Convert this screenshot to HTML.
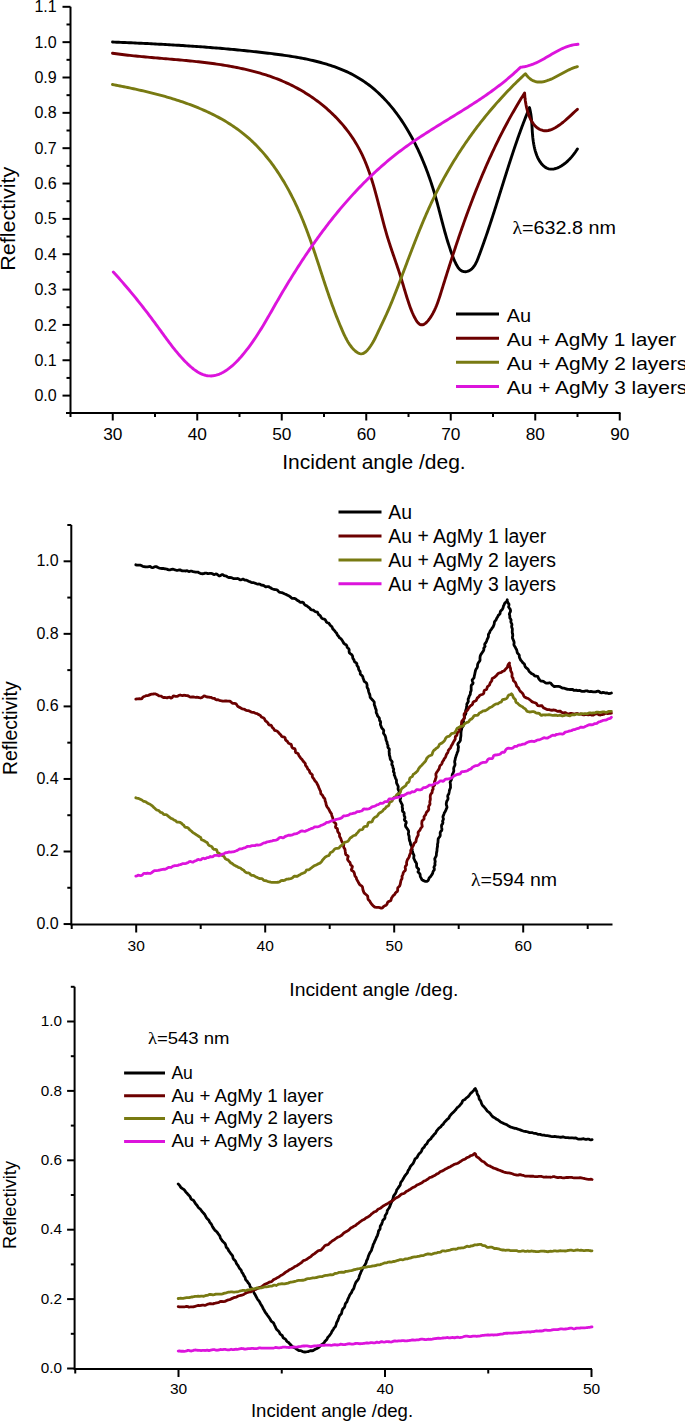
<!DOCTYPE html>
<html><head><meta charset="utf-8"><title>Reflectivity vs incident angle</title>
<style>
html,body{margin:0;padding:0;background:#fff;}
body{width:685px;height:1421px;overflow:hidden;}
svg{display:block;}
text{font-family:"Liberation Sans", sans-serif;fill:#000;}
</style></head>
<body>
<svg width="685" height="1421" viewBox="0 0 685 1421">
<rect width="685" height="1421" fill="#fff"/>
<line x1="70.5" y1="6.8" x2="70.5" y2="414" stroke="#000" stroke-width="2"/>
<line x1="66" y1="413" x2="620.5" y2="413" stroke="#000" stroke-width="2"/>
<line x1="62.5" y1="395.6" x2="70.5" y2="395.6" stroke="#000" stroke-width="2"/>
<text x="56.7" y="401.2" font-size="17.3" text-anchor="end" textLength="22.3" lengthAdjust="spacingAndGlyphs">0.0</text>
<line x1="62.5" y1="360.25" x2="70.5" y2="360.25" stroke="#000" stroke-width="2"/>
<text x="56.7" y="365.86" font-size="17.3" text-anchor="end" textLength="22.3" lengthAdjust="spacingAndGlyphs">0.1</text>
<line x1="62.5" y1="324.91" x2="70.5" y2="324.91" stroke="#000" stroke-width="2"/>
<text x="56.7" y="330.51" font-size="17.3" text-anchor="end" textLength="22.3" lengthAdjust="spacingAndGlyphs">0.2</text>
<line x1="62.5" y1="289.57" x2="70.5" y2="289.57" stroke="#000" stroke-width="2"/>
<text x="56.7" y="295.17" font-size="17.3" text-anchor="end" textLength="22.3" lengthAdjust="spacingAndGlyphs">0.3</text>
<line x1="62.5" y1="254.22" x2="70.5" y2="254.22" stroke="#000" stroke-width="2"/>
<text x="56.7" y="259.82" font-size="17.3" text-anchor="end" textLength="22.3" lengthAdjust="spacingAndGlyphs">0.4</text>
<line x1="62.5" y1="218.88" x2="70.5" y2="218.88" stroke="#000" stroke-width="2"/>
<text x="56.7" y="224.48" font-size="17.3" text-anchor="end" textLength="22.3" lengthAdjust="spacingAndGlyphs">0.5</text>
<line x1="62.5" y1="183.53" x2="70.5" y2="183.53" stroke="#000" stroke-width="2"/>
<text x="56.7" y="189.13" font-size="17.3" text-anchor="end" textLength="22.3" lengthAdjust="spacingAndGlyphs">0.6</text>
<line x1="62.5" y1="148.19" x2="70.5" y2="148.19" stroke="#000" stroke-width="2"/>
<text x="56.7" y="153.79" font-size="17.3" text-anchor="end" textLength="22.3" lengthAdjust="spacingAndGlyphs">0.7</text>
<line x1="62.5" y1="112.84" x2="70.5" y2="112.84" stroke="#000" stroke-width="2"/>
<text x="56.7" y="118.44" font-size="17.3" text-anchor="end" textLength="22.3" lengthAdjust="spacingAndGlyphs">0.8</text>
<line x1="62.5" y1="77.5" x2="70.5" y2="77.5" stroke="#000" stroke-width="2"/>
<text x="56.7" y="83.09" font-size="17.3" text-anchor="end" textLength="22.3" lengthAdjust="spacingAndGlyphs">0.9</text>
<line x1="62.5" y1="42.15" x2="70.5" y2="42.15" stroke="#000" stroke-width="2"/>
<text x="56.7" y="47.75" font-size="17.3" text-anchor="end" textLength="22.3" lengthAdjust="spacingAndGlyphs">1.0</text>
<line x1="62.5" y1="6.81" x2="70.5" y2="6.81" stroke="#000" stroke-width="2"/>
<text x="56.7" y="12.41" font-size="17.3" text-anchor="end" textLength="22.3" lengthAdjust="spacingAndGlyphs">1.1</text>
<line x1="66.5" y1="377.93" x2="70.5" y2="377.93" stroke="#000" stroke-width="2"/>
<line x1="66.5" y1="342.58" x2="70.5" y2="342.58" stroke="#000" stroke-width="2"/>
<line x1="66.5" y1="307.24" x2="70.5" y2="307.24" stroke="#000" stroke-width="2"/>
<line x1="66.5" y1="271.89" x2="70.5" y2="271.89" stroke="#000" stroke-width="2"/>
<line x1="66.5" y1="236.55" x2="70.5" y2="236.55" stroke="#000" stroke-width="2"/>
<line x1="66.5" y1="201.2" x2="70.5" y2="201.2" stroke="#000" stroke-width="2"/>
<line x1="66.5" y1="165.86" x2="70.5" y2="165.86" stroke="#000" stroke-width="2"/>
<line x1="66.5" y1="130.51" x2="70.5" y2="130.51" stroke="#000" stroke-width="2"/>
<line x1="66.5" y1="95.17" x2="70.5" y2="95.17" stroke="#000" stroke-width="2"/>
<line x1="66.5" y1="59.82" x2="70.5" y2="59.82" stroke="#000" stroke-width="2"/>
<line x1="66.5" y1="24.48" x2="70.5" y2="24.48" stroke="#000" stroke-width="2"/>
<line x1="112.75" y1="413" x2="112.75" y2="420.5" stroke="#000" stroke-width="2"/>
<text x="112.75" y="439.6" font-size="17.3" text-anchor="middle">30</text>
<line x1="197.25" y1="413" x2="197.25" y2="420.5" stroke="#000" stroke-width="2"/>
<text x="197.25" y="439.6" font-size="17.3" text-anchor="middle">40</text>
<line x1="281.75" y1="413" x2="281.75" y2="420.5" stroke="#000" stroke-width="2"/>
<text x="281.75" y="439.6" font-size="17.3" text-anchor="middle">50</text>
<line x1="366.25" y1="413" x2="366.25" y2="420.5" stroke="#000" stroke-width="2"/>
<text x="366.25" y="439.6" font-size="17.3" text-anchor="middle">60</text>
<line x1="450.75" y1="413" x2="450.75" y2="420.5" stroke="#000" stroke-width="2"/>
<text x="450.75" y="439.6" font-size="17.3" text-anchor="middle">70</text>
<line x1="535.25" y1="413" x2="535.25" y2="420.5" stroke="#000" stroke-width="2"/>
<text x="535.25" y="439.6" font-size="17.3" text-anchor="middle">80</text>
<line x1="619.75" y1="413" x2="619.75" y2="420.5" stroke="#000" stroke-width="2"/>
<text x="619.75" y="439.6" font-size="17.3" text-anchor="middle">90</text>
<line x1="70.5" y1="413" x2="70.5" y2="417" stroke="#000" stroke-width="2"/>
<line x1="155" y1="413" x2="155" y2="417" stroke="#000" stroke-width="2"/>
<line x1="239.5" y1="413" x2="239.5" y2="417" stroke="#000" stroke-width="2"/>
<line x1="324" y1="413" x2="324" y2="417" stroke="#000" stroke-width="2"/>
<line x1="408.5" y1="413" x2="408.5" y2="417" stroke="#000" stroke-width="2"/>
<line x1="493" y1="413" x2="493" y2="417" stroke="#000" stroke-width="2"/>
<line x1="577.5" y1="413" x2="577.5" y2="417" stroke="#000" stroke-width="2"/>
<text x="282.2" y="469.1" font-size="19.3" text-anchor="start" textLength="183.5" lengthAdjust="spacingAndGlyphs">Incident angle /deg.</text>
<text x="15.1" y="218.8" font-size="20.5" text-anchor="middle" transform="rotate(-90 15.1 218.8)" textLength="104" lengthAdjust="spacingAndGlyphs">Reflectivity</text>
<text x="512.5" y="234.2" font-size="18.6" text-anchor="start" textLength="103.5" lengthAdjust="spacingAndGlyphs"><tspan style="font-family:&quot;Liberation Serif&quot;, serif">&#955;</tspan>=632.8 nm</text>
<line x1="456" y1="314" x2="499" y2="314" stroke="#000000" stroke-width="3"/>
<text x="506.8" y="321.5" font-size="18.8" text-anchor="start" textLength="24.4" lengthAdjust="spacingAndGlyphs">Au</text>
<line x1="456" y1="338.2" x2="499" y2="338.2" stroke="#6c0000" stroke-width="3"/>
<text x="506.8" y="345.7" font-size="18.8" text-anchor="start" textLength="169.4" lengthAdjust="spacingAndGlyphs">Au + AgMy 1 layer</text>
<line x1="456" y1="362.3" x2="499" y2="362.3" stroke="#787a12" stroke-width="3"/>
<text x="506.8" y="369.8" font-size="18.8" text-anchor="start" textLength="180.5" lengthAdjust="spacingAndGlyphs">Au + AgMy 2 layers</text>
<line x1="456" y1="386.5" x2="499" y2="386.5" stroke="#dc14dc" stroke-width="3"/>
<text x="506.8" y="394" font-size="18.8" text-anchor="start" textLength="180.5" lengthAdjust="spacingAndGlyphs">Au + AgMy 3 layers</text>
<path d="M112.5,42 L114.59,42.09 L116.67,42.18 L118.74,42.26 L120.81,42.35 L122.88,42.44 L124.94,42.53 L126.99,42.62 L129.04,42.71 L131.08,42.81 L133.12,42.9 L135.16,42.99 L137.19,43.09 L139.21,43.18 L141.23,43.28 L143.25,43.37 L145.26,43.47 L147.27,43.57 L149.27,43.67 L151.28,43.77 L153.27,43.87 L155.27,43.98 L157.26,44.08 L159.25,44.19 L161.23,44.29 L163.22,44.4 L165.2,44.51 L167.18,44.62 L169.15,44.74 L171.12,44.85 L173.1,44.97 L175.07,45.08 L177.03,45.2 L179,45.32 L180.96,45.45 L182.93,45.57 L184.89,45.7 L186.85,45.83 L188.81,45.96 L190.77,46.09 L192.73,46.22 L194.68,46.36 L196.64,46.49 L198.6,46.63 L200.56,46.78 L202.51,46.92 L204.47,47.07 L206.43,47.22 L208.39,47.37 L210.35,47.52 L212.3,47.68 L214.26,47.83 L216.23,48 L218.19,48.16 L220.15,48.32 L222.12,48.49 L224.08,48.66 L226.05,48.84 L228.02,49.02 L230,49.19 L231.97,49.38 L233.95,49.56 L235.93,49.75 L237.91,49.94 L239.89,50.13 L241.88,50.33 L243.87,50.53 L245.86,50.73 L247.86,50.94 L249.86,51.15 L251.86,51.36 L253.87,51.58 L255.88,51.8 L257.89,52.02 L259.91,52.25 L261.94,52.48 L263.96,52.71 L265.99,52.95 L268.03,53.19 L270.07,53.43 L272.11,53.68 L274.16,53.94 L276.2,54.2 L278.25,54.47 L280.3,54.74 L282.35,55.03 L284.41,55.32 L286.46,55.62 L288.51,55.92 L290.56,56.24 L292.6,56.57 L294.65,56.91 L296.69,57.26 L298.73,57.62 L300.76,57.99 L302.79,58.38 L304.82,58.78 L306.84,59.19 L308.85,59.62 L310.86,60.06 L312.86,60.52 L314.86,60.99 L316.85,61.48 L318.82,61.99 L320.79,62.51 L322.76,63.05 L324.71,63.61 L326.65,64.19 L328.58,64.79 L330.5,65.41 L332.41,66.04 L334.3,66.7 L336.18,67.38 L338.06,68.08 L339.91,68.81 L341.75,69.56 L343.58,70.33 L345.4,71.12 L347.19,71.94 L348.97,72.78 L350.74,73.65 L352.49,74.55 L354.22,75.47 L355.93,76.42 L357.62,77.4 L359.3,78.4 L360.95,79.43 L362.59,80.49 L364.21,81.58 L365.81,82.7 L367.39,83.84 L368.95,85.01 L370.49,86.2 L372.01,87.42 L373.52,88.66 L375,89.93 L376.47,91.22 L377.92,92.53 L379.35,93.87 L380.77,95.23 L382.16,96.61 L383.54,98.01 L384.9,99.44 L386.25,100.88 L387.57,102.35 L388.88,103.83 L390.17,105.33 L391.45,106.86 L392.7,108.4 L393.94,109.96 L395.17,111.53 L396.37,113.13 L397.56,114.74 L398.74,116.36 L399.89,118.01 L401.03,119.66 L402.16,121.34 L403.27,123.02 L404.36,124.72 L405.44,126.44 L406.5,128.16 L407.54,129.9 L408.57,131.65 L409.58,133.42 L410.58,135.19 L411.57,136.98 L412.53,138.77 L413.49,140.58 L414.43,142.39 L415.35,144.22 L416.26,146.05 L417.15,147.89 L418.03,149.74 L418.89,151.59 L419.74,153.45 L420.58,155.32 L421.4,157.2 L422.21,159.07 L423,160.96 L423.78,162.85 L424.55,164.74 L425.3,166.64 L426.04,168.54 L426.77,170.44 L427.48,172.34 L428.18,174.25 L428.87,176.15 L429.54,178.06 L430.2,179.97 L430.85,181.88 L431.48,183.79 L432.1,185.69 L432.71,187.6 L433.31,189.5 L433.9,191.41 L434.47,193.3 L435.03,195.2 L435.58,197.09 L436.11,198.98 L436.64,200.87 L437.16,202.75 L437.67,204.63 L438.17,206.51 L438.67,208.39 L439.16,210.26 L439.65,212.14 L440.14,214.02 L440.62,215.9 L441.11,217.78 L441.6,219.67 L442.09,221.56 L442.59,223.45 L443.09,225.34 L443.6,227.25 L444.12,229.15 L444.64,231.07 L445.18,232.99 L445.73,234.91 L446.29,236.85 L446.86,238.79 L447.45,240.75 L448.06,242.71 L448.68,244.68 L449.32,246.67 L449.99,248.66 L450.67,250.67 L451.38,252.69 L452.13,254.74 L452.92,256.81 L453.77,258.92 L454.68,261.07 L455.67,263.24 L456.75,265.33 L457.93,267.26 L459.22,268.94 L460.64,270.26 L462.18,271.16 L463.83,271.63 L465.53,271.7 L467.23,271.42 L468.89,270.82 L470.45,269.93 L471.87,268.8 L473.14,267.46 L474.29,265.94 L475.32,264.26 L476.26,262.45 L477.13,260.55 L477.94,258.58 L478.72,256.57 L479.47,254.55 L480.22,252.53 L480.95,250.52 L481.68,248.52 L482.4,246.52 L483.11,244.52 L483.82,242.54 L484.52,240.55 L485.21,238.57 L485.89,236.6 L486.57,234.63 L487.24,232.67 L487.9,230.71 L488.56,228.75 L489.21,226.8 L489.86,224.85 L490.5,222.91 L491.14,220.97 L491.77,219.04 L492.4,217.11 L493.02,215.18 L493.64,213.25 L494.26,211.33 L494.87,209.41 L495.48,207.5 L496.09,205.59 L496.69,203.68 L497.29,201.77 L497.89,199.87 L498.49,197.97 L499.08,196.07 L499.67,194.18 L500.27,192.28 L500.86,190.39 L501.45,188.5 L502.04,186.62 L502.63,184.73 L503.22,182.85 L503.8,180.97 L504.39,179.08 L504.98,177.21 L505.58,175.33 L506.17,173.45 L506.76,171.57 L507.36,169.7 L507.95,167.83 L508.55,165.95 L509.15,164.08 L509.76,162.21 L510.37,160.33 L510.98,158.46 L511.59,156.59 L512.21,154.72 L512.83,152.85 L513.45,150.97 L514.08,149.1 L514.71,147.23 L515.35,145.36 L516,143.48 L516.64,141.61 L517.3,139.73 L517.96,137.85 L518.62,135.98 L519.3,134.1 L519.98,132.22 L520.66,130.34 L521.35,128.45 L522.05,126.57 L522.76,124.68 L523.47,122.79 L524.2,120.9 L524.93,119.01 L525.67,117.11 L526.41,115.21 L527.17,113.31 L527.94,111.41 L528.71,109.51 L529.5,107.6 L529.5,107.6 L530.02,109.83 L530.46,111.98 L530.82,114.06 L531.12,116.1 L531.36,118.08 L531.56,120.03 L531.72,121.96 L531.85,123.87 L531.97,125.78 L532.07,127.69 L532.18,129.62 L532.3,131.58 L532.44,133.57 L532.61,135.6 L532.81,137.69 L533.07,139.85 L533.38,142.06 L533.75,144.31 L534.2,146.57 L534.72,148.84 L535.32,151.09 L536.01,153.31 L536.8,155.47 L537.69,157.56 L538.69,159.55 L539.81,161.44 L541.05,163.2 L542.41,164.8 L543.87,166.2 L545.42,167.37 L547.05,168.25 L548.73,168.83 L550.46,169.13 L552.22,169.16 L554.01,168.94 L555.82,168.5 L557.64,167.85 L559.45,167 L561.26,165.99 L563.04,164.82 L564.78,163.52 L566.49,162.1 L568.14,160.59 L569.73,159 L571.24,157.36 L572.68,155.67 L574.02,153.96 L575.26,152.25 L576.39,150.56 L577.4,148.9" fill="none" stroke="#000000" stroke-width="2.9" stroke-linejoin="round" stroke-linecap="round"/>
<path d="M112.5,53.2 L114.4,53.47 L116.31,53.74 L118.23,54 L120.15,54.25 L122.08,54.5 L124.02,54.73 L125.96,54.96 L127.91,55.19 L129.86,55.41 L131.82,55.62 L133.78,55.83 L135.75,56.04 L137.73,56.24 L139.71,56.43 L141.69,56.62 L143.68,56.81 L145.67,57 L147.67,57.18 L149.67,57.36 L151.67,57.54 L153.68,57.71 L155.69,57.89 L157.71,58.06 L159.73,58.23 L161.75,58.41 L163.77,58.58 L165.79,58.75 L167.82,58.92 L169.85,59.1 L171.88,59.27 L173.92,59.45 L175.95,59.63 L177.99,59.81 L180.02,59.99 L182.06,60.18 L184.1,60.37 L186.14,60.56 L188.18,60.75 L190.22,60.96 L192.25,61.16 L194.29,61.37 L196.33,61.59 L198.37,61.81 L200.41,62.03 L202.44,62.27 L204.48,62.51 L206.51,62.75 L208.55,63 L210.58,63.27 L212.6,63.53 L214.63,63.81 L216.65,64.1 L218.68,64.39 L220.7,64.69 L222.71,65.01 L224.72,65.33 L226.73,65.66 L228.74,66.01 L230.74,66.36 L232.74,66.72 L234.74,67.1 L236.73,67.49 L238.72,67.89 L240.7,68.3 L242.68,68.73 L244.65,69.17 L246.62,69.62 L248.58,70.09 L250.53,70.57 L252.49,71.07 L254.43,71.58 L256.37,72.1 L258.3,72.64 L260.23,73.2 L262.15,73.77 L264.06,74.36 L265.97,74.96 L267.87,75.59 L269.76,76.23 L271.64,76.89 L273.52,77.56 L275.39,78.26 L277.25,78.97 L279.1,79.7 L280.94,80.46 L282.78,81.23 L284.6,82.02 L286.42,82.83 L288.23,83.67 L290.03,84.52 L291.82,85.4 L293.6,86.29 L295.36,87.21 L297.12,88.15 L298.87,89.11 L300.6,90.09 L302.33,91.09 L304.04,92.11 L305.74,93.15 L307.43,94.21 L309.1,95.29 L310.76,96.39 L312.41,97.51 L314.04,98.65 L315.66,99.81 L317.26,100.99 L318.85,102.19 L320.42,103.41 L321.98,104.65 L323.52,105.9 L325.05,107.18 L326.56,108.47 L328.05,109.79 L329.53,111.12 L330.98,112.47 L332.42,113.83 L333.84,115.22 L335.25,116.63 L336.63,118.05 L338,119.49 L339.34,120.95 L340.67,122.42 L341.97,123.92 L343.26,125.43 L344.52,126.96 L345.76,128.5 L346.98,130.06 L348.18,131.64 L349.36,133.24 L350.51,134.85 L351.64,136.48 L352.75,138.13 L353.84,139.79 L354.9,141.47 L355.93,143.17 L356.95,144.88 L357.93,146.61 L358.9,148.36 L359.83,150.11 L360.74,151.89 L361.63,153.68 L362.49,155.49 L363.33,157.31 L364.15,159.14 L364.94,160.99 L365.71,162.84 L366.46,164.71 L367.2,166.6 L367.91,168.49 L368.61,170.39 L369.29,172.3 L369.95,174.23 L370.6,176.16 L371.23,178.09 L371.85,180.04 L372.46,181.99 L373.05,183.95 L373.64,185.92 L374.21,187.89 L374.77,189.86 L375.33,191.84 L375.87,193.82 L376.41,195.81 L376.95,197.79 L377.47,199.78 L378,201.77 L378.51,203.77 L379.03,205.76 L379.54,207.75 L380.06,209.74 L380.57,211.73 L381.08,213.72 L381.59,215.7 L382.1,217.68 L382.62,219.66 L383.14,221.64 L383.67,223.61 L384.19,225.57 L384.73,227.53 L385.27,229.48 L385.82,231.42 L386.38,233.36 L386.94,235.29 L387.52,237.21 L388.11,239.12 L388.71,241.03 L389.31,242.92 L389.93,244.81 L390.55,246.69 L391.17,248.57 L391.8,250.44 L392.44,252.3 L393.08,254.17 L393.72,256.03 L394.36,257.88 L395,259.74 L395.63,261.6 L396.27,263.45 L396.9,265.31 L397.53,267.16 L398.16,269.02 L398.77,270.89 L399.38,272.75 L399.98,274.62 L400.57,276.49 L401.16,278.37 L401.73,280.26 L402.3,282.15 L402.87,284.04 L403.44,285.94 L404,287.85 L404.57,289.76 L405.15,291.68 L405.73,293.6 L406.32,295.52 L406.92,297.45 L407.54,299.38 L408.17,301.32 L408.81,303.27 L409.48,305.22 L410.18,307.18 L410.92,309.16 L411.73,311.18 L412.6,313.24 L413.57,315.35 L414.64,317.52 L415.82,319.66 L417.07,321.62 L418.39,323.23 L419.76,324.32 L421.15,324.81 L422.57,324.78 L423.98,324.27 L425.39,323.37 L426.77,322.14 L428.12,320.65 L429.41,318.97 L430.64,317.17 L431.79,315.31 L432.86,313.43 L433.85,311.55 L434.77,309.65 L435.63,307.75 L436.43,305.84 L437.18,303.92 L437.89,302 L438.57,300.07 L439.21,298.14 L439.84,296.22 L440.45,294.29 L441.05,292.36 L441.65,290.43 L442.24,288.51 L442.84,286.58 L443.44,284.66 L444.04,282.74 L444.64,280.83 L445.24,278.91 L445.84,277 L446.45,275.09 L447.05,273.18 L447.66,271.27 L448.26,269.36 L448.87,267.45 L449.48,265.55 L450.09,263.65 L450.7,261.74 L451.32,259.84 L451.93,257.94 L452.55,256.04 L453.17,254.14 L453.8,252.24 L454.42,250.34 L455.05,248.44 L455.68,246.54 L456.32,244.64 L456.95,242.74 L457.59,240.84 L458.24,238.94 L458.88,237.05 L459.53,235.15 L460.18,233.25 L460.84,231.36 L461.5,229.46 L462.16,227.57 L462.83,225.67 L463.5,223.78 L464.17,221.89 L464.85,220 L465.53,218.11 L466.21,216.22 L466.9,214.33 L467.59,212.44 L468.29,210.56 L468.98,208.67 L469.69,206.79 L470.4,204.91 L471.11,203.02 L471.82,201.15 L472.54,199.27 L473.27,197.39 L474,195.52 L474.73,193.64 L475.47,191.77 L476.21,189.9 L476.96,188.03 L477.71,186.17 L478.46,184.3 L479.22,182.44 L479.99,180.58 L480.76,178.72 L481.53,176.87 L482.31,175.01 L483.1,173.16 L483.89,171.31 L484.69,169.47 L485.49,167.62 L486.29,165.78 L487.11,163.94 L487.92,162.1 L488.74,160.27 L489.57,158.44 L490.41,156.61 L491.24,154.78 L492.09,152.96 L492.94,151.14 L493.8,149.32 L494.66,147.5 L495.53,145.69 L496.4,143.88 L497.28,142.08 L498.17,140.28 L499.06,138.48 L499.96,136.68 L500.86,134.89 L501.77,133.1 L502.69,131.31 L503.61,129.53 L504.54,127.75 L505.48,125.98 L506.42,124.2 L507.37,122.44 L508.33,120.67 L509.29,118.91 L510.26,117.16 L511.24,115.4 L512.23,113.65 L513.22,111.91 L514.22,110.17 L515.22,108.43 L516.23,106.7 L517.25,104.97 L518.28,103.25 L519.31,101.53 L520.36,99.81 L521.41,98.1 L522.46,96.4 L523.53,94.7 L524.6,93 L524.6,93 L524.7,94.69 L524.84,96.55 L525.05,98.53 L525.32,100.63 L525.66,102.82 L526.06,105.07 L526.54,107.36 L527.11,109.66 L527.75,111.96 L528.48,114.22 L529.31,116.42 L530.23,118.54 L531.25,120.55 L532.37,122.43 L533.61,124.16 L534.94,125.71 L536.37,127.09 L537.88,128.26 L539.46,129.23 L541.11,129.97 L542.82,130.48 L544.58,130.74 L546.37,130.73 L548.19,130.48 L550.04,130.01 L551.91,129.34 L553.78,128.49 L555.66,127.47 L557.54,126.32 L559.41,125.05 L561.26,123.68 L563.09,122.24 L564.89,120.74 L566.66,119.21 L568.38,117.66 L570.05,116.12 L571.66,114.62 L573.21,113.16 L574.68,111.77 L576.08,110.48 L577.4,109.3" fill="none" stroke="#6c0000" stroke-width="2.9" stroke-linejoin="round" stroke-linecap="round"/>
<path d="M112.5,84.5 L114.38,84.86 L116.26,85.23 L118.16,85.6 L120.06,85.97 L121.96,86.35 L123.88,86.74 L125.8,87.13 L127.72,87.52 L129.66,87.93 L131.59,88.34 L133.54,88.75 L135.48,89.17 L137.43,89.6 L139.39,90.04 L141.35,90.48 L143.31,90.93 L145.27,91.39 L147.24,91.86 L149.21,92.33 L151.18,92.82 L153.15,93.31 L155.12,93.81 L157.09,94.33 L159.06,94.85 L161.03,95.38 L163,95.92 L164.97,96.47 L166.94,97.04 L168.9,97.61 L170.87,98.19 L172.83,98.79 L174.79,99.4 L176.74,100.02 L178.69,100.65 L180.64,101.29 L182.58,101.95 L184.52,102.62 L186.45,103.3 L188.37,104 L190.29,104.71 L192.21,105.43 L194.11,106.17 L196.01,106.92 L197.9,107.69 L199.79,108.47 L201.66,109.27 L203.53,110.08 L205.39,110.9 L207.24,111.75 L209.08,112.61 L210.9,113.48 L212.72,114.37 L214.53,115.28 L216.33,116.21 L218.11,117.15 L219.88,118.11 L221.64,119.09 L223.39,120.09 L225.12,121.1 L226.84,122.13 L228.55,123.18 L230.24,124.26 L231.92,125.35 L233.58,126.46 L235.22,127.58 L236.85,128.73 L238.47,129.9 L240.07,131.09 L241.65,132.3 L243.21,133.53 L244.76,134.79 L246.28,136.06 L247.79,137.36 L249.28,138.67 L250.76,140.01 L252.21,141.37 L253.65,142.74 L255.07,144.14 L256.48,145.55 L257.86,146.99 L259.23,148.44 L260.58,149.91 L261.92,151.39 L263.24,152.9 L264.54,154.41 L265.82,155.95 L267.09,157.5 L268.34,159.07 L269.58,160.65 L270.8,162.24 L272,163.85 L273.19,165.47 L274.36,167.11 L275.52,168.76 L276.66,170.42 L277.79,172.09 L278.9,173.78 L279.99,175.47 L281.07,177.18 L282.14,178.9 L283.19,180.62 L284.23,182.36 L285.25,184.11 L286.26,185.86 L287.25,187.62 L288.23,189.39 L289.2,191.17 L290.15,192.96 L291.09,194.75 L292.01,196.55 L292.92,198.35 L293.82,200.16 L294.7,201.98 L295.58,203.8 L296.43,205.62 L297.28,207.45 L298.11,209.28 L298.93,211.11 L299.74,212.95 L300.53,214.79 L301.32,216.63 L302.09,218.47 L302.85,220.31 L303.6,222.16 L304.34,224.01 L305.06,225.86 L305.78,227.71 L306.49,229.56 L307.19,231.42 L307.88,233.27 L308.57,235.13 L309.24,236.99 L309.91,238.86 L310.58,240.72 L311.23,242.59 L311.88,244.46 L312.53,246.33 L313.17,248.2 L313.81,250.08 L314.44,251.95 L315.07,253.83 L315.7,255.71 L316.32,257.6 L316.94,259.48 L317.56,261.37 L318.18,263.26 L318.8,265.15 L319.42,267.04 L320.03,268.94 L320.65,270.84 L321.27,272.74 L321.89,274.64 L322.51,276.54 L323.14,278.45 L323.76,280.36 L324.39,282.27 L325.03,284.19 L325.66,286.1 L326.31,288.02 L326.95,289.94 L327.61,291.87 L328.27,293.79 L328.93,295.72 L329.6,297.65 L330.28,299.59 L330.97,301.52 L331.66,303.46 L332.36,305.4 L333.07,307.35 L333.79,309.29 L334.52,311.24 L335.27,313.19 L336.02,315.15 L336.78,317.1 L337.55,319.06 L338.34,321.03 L339.14,322.99 L339.95,324.96 L340.78,326.93 L341.61,328.9 L342.47,330.87 L343.34,332.83 L344.24,334.77 L345.16,336.69 L346.11,338.56 L347.1,340.38 L348.13,342.15 L349.19,343.85 L350.3,345.47 L351.46,347 L352.67,348.44 L353.94,349.78 L355.27,351 L356.66,352.09 L358.11,352.98 L359.61,353.6 L361.14,353.85 L362.71,353.64 L364.29,352.91 L365.87,351.72 L367.41,350.17 L368.89,348.4 L370.28,346.51 L371.58,344.56 L372.8,342.55 L373.94,340.52 L375.01,338.47 L376.03,336.43 L377.01,334.4 L377.94,332.4 L378.85,330.45 L379.75,328.57 L380.62,326.73 L381.48,324.93 L382.32,323.17 L383.15,321.43 L383.97,319.7 L384.78,317.97 L385.58,316.23 L386.38,314.48 L387.17,312.71 L387.96,310.93 L388.74,309.14 L389.51,307.33 L390.28,305.51 L391.05,303.68 L391.81,301.83 L392.56,299.98 L393.31,298.13 L394.06,296.26 L394.8,294.39 L395.54,292.51 L396.28,290.63 L397.01,288.74 L397.75,286.85 L398.47,284.96 L399.2,283.07 L399.92,281.17 L400.65,279.28 L401.36,277.39 L402.08,275.49 L402.8,273.6 L403.52,271.71 L404.23,269.82 L404.95,267.92 L405.66,266.03 L406.37,264.14 L407.09,262.25 L407.8,260.36 L408.52,258.47 L409.24,256.58 L409.95,254.7 L410.67,252.81 L411.39,250.93 L412.11,249.05 L412.84,247.16 L413.57,245.28 L414.29,243.41 L415.03,241.53 L415.76,239.65 L416.5,237.78 L417.24,235.91 L417.99,234.04 L418.73,232.18 L419.49,230.31 L420.25,228.45 L421.01,226.59 L421.77,224.74 L422.55,222.88 L423.33,221.03 L424.11,219.18 L424.9,217.34 L425.69,215.5 L426.49,213.66 L427.3,211.82 L428.12,209.99 L428.94,208.16 L429.77,206.33 L430.61,204.51 L431.45,202.69 L432.3,200.88 L433.16,199.07 L434.03,197.26 L434.91,195.46 L435.8,193.66 L436.69,191.87 L437.6,190.08 L438.51,188.3 L439.43,186.52 L440.36,184.74 L441.3,182.97 L442.25,181.2 L443.21,179.44 L444.17,177.68 L445.14,175.93 L446.12,174.18 L447.11,172.43 L448.11,170.69 L449.12,168.96 L450.13,167.23 L451.16,165.5 L452.19,163.78 L453.23,162.07 L454.28,160.36 L455.33,158.65 L456.4,156.95 L457.47,155.25 L458.55,153.56 L459.64,151.88 L460.74,150.2 L461.85,148.52 L462.96,146.85 L464.08,145.19 L465.21,143.53 L466.35,141.88 L467.5,140.23 L468.65,138.59 L469.81,136.95 L470.98,135.32 L472.16,133.69 L473.34,132.07 L474.54,130.46 L475.74,128.85 L476.94,127.24 L478.16,125.65 L479.38,124.06 L480.62,122.47 L481.86,120.89 L483.1,119.32 L484.36,117.75 L485.62,116.19 L486.89,114.63 L488.17,113.08 L489.45,111.54 L490.74,110 L492.04,108.47 L493.35,106.94 L494.66,105.43 L495.98,103.91 L497.31,102.41 L498.65,100.91 L499.99,99.42 L501.35,97.93 L502.7,96.45 L504.07,94.98 L505.44,93.51 L506.82,92.05 L508.21,90.6 L509.6,89.15 L511,87.71 L512.41,86.28 L513.83,84.85 L515.25,83.43 L516.68,82.02 L518.12,80.62 L519.56,79.22 L521.01,77.83 L522.47,76.45 L523.93,75.07 L525.4,73.7 L525.4,73.7 L526.52,75.21 L527.66,76.56 L528.83,77.74 L530.02,78.76 L531.23,79.63 L532.46,80.36 L533.71,80.95 L534.98,81.41 L536.26,81.74 L537.56,81.96 L538.88,82.06 L540.21,82.06 L541.55,81.96 L542.9,81.77 L544.27,81.5 L545.64,81.15 L547.03,80.72 L548.42,80.24 L549.81,79.69 L551.21,79.09 L552.62,78.45 L554.03,77.76 L555.44,77.05 L556.85,76.31 L558.26,75.55 L559.67,74.78 L561.08,74.01 L562.48,73.23 L563.88,72.47 L565.28,71.72 L566.66,70.99 L568.04,70.28 L569.42,69.62 L570.78,68.99 L572.13,68.41 L573.47,67.88 L574.79,67.42 L576.1,67.02 L577.4,66.7" fill="none" stroke="#787a12" stroke-width="2.9" stroke-linejoin="round" stroke-linecap="round"/>
<path d="M113.3,272 L114.69,273.52 L116.07,275.04 L117.45,276.56 L118.81,278.08 L120.16,279.61 L121.5,281.13 L122.83,282.65 L124.15,284.18 L125.46,285.7 L126.77,287.23 L128.06,288.76 L129.35,290.28 L130.63,291.82 L131.9,293.35 L133.16,294.88 L134.42,296.42 L135.67,297.96 L136.91,299.5 L138.15,301.04 L139.38,302.58 L140.61,304.13 L141.82,305.68 L143.04,307.23 L144.25,308.79 L145.45,310.35 L146.65,311.91 L147.85,313.48 L149.04,315.05 L150.23,316.62 L151.41,318.2 L152.59,319.78 L153.77,321.36 L154.94,322.95 L156.12,324.54 L157.29,326.14 L158.46,327.74 L159.63,329.35 L160.79,330.96 L161.96,332.58 L163.13,334.2 L164.31,335.82 L165.49,337.45 L166.69,339.08 L167.9,340.71 L169.12,342.35 L170.36,343.98 L171.61,345.62 L172.89,347.27 L174.19,348.91 L175.52,350.55 L176.88,352.2 L178.27,353.84 L179.69,355.48 L181.14,357.13 L182.64,358.77 L184.16,360.4 L185.72,362.01 L187.31,363.58 L188.93,365.11 L190.57,366.59 L192.23,367.99 L193.91,369.32 L195.6,370.56 L197.3,371.69 L199.02,372.72 L200.74,373.62 L202.47,374.38 L204.19,375 L205.92,375.46 L207.64,375.77 L209.35,375.92 L211.06,375.93 L212.77,375.81 L214.47,375.55 L216.15,375.16 L217.84,374.65 L219.51,374.03 L221.17,373.3 L222.81,372.47 L224.45,371.53 L226.07,370.51 L227.68,369.4 L229.27,368.2 L230.85,366.94 L232.41,365.6 L233.95,364.2 L235.47,362.75 L236.97,361.24 L238.45,359.68 L239.91,358.09 L241.34,356.46 L242.75,354.81 L244.14,353.13 L245.5,351.43 L246.84,349.72 L248.14,348.01 L249.42,346.3 L250.68,344.58 L251.91,342.87 L253.11,341.15 L254.29,339.44 L255.45,337.72 L256.59,336 L257.71,334.28 L258.81,332.56 L259.89,330.85 L260.96,329.13 L262.01,327.41 L263.06,325.69 L264.09,323.97 L265.1,322.25 L266.11,320.53 L267.12,318.81 L268.11,317.09 L269.1,315.37 L270.08,313.65 L271.07,311.93 L272.05,310.21 L273.03,308.49 L274.01,306.78 L274.99,305.06 L275.97,303.34 L276.96,301.62 L277.95,299.91 L278.95,298.19 L279.95,296.48 L280.96,294.76 L281.96,293.05 L282.98,291.34 L284,289.63 L285.02,287.92 L286.04,286.21 L287.07,284.5 L288.11,282.8 L289.15,281.1 L290.19,279.39 L291.24,277.69 L292.29,276 L293.35,274.3 L294.42,272.61 L295.48,270.92 L296.56,269.23 L297.63,267.54 L298.71,265.85 L299.8,264.17 L300.89,262.49 L301.99,260.82 L303.09,259.14 L304.2,257.47 L305.31,255.81 L306.43,254.14 L307.55,252.48 L308.68,250.82 L309.81,249.17 L310.95,247.52 L312.1,245.87 L313.25,244.23 L314.4,242.59 L315.56,240.95 L316.73,239.32 L317.9,237.69 L319.08,236.07 L320.26,234.45 L321.45,232.83 L322.65,231.22 L323.85,229.62 L325.05,228.01 L326.27,226.42 L327.49,224.83 L328.71,223.24 L329.94,221.66 L331.18,220.08 L332.42,218.51 L333.67,216.94 L334.93,215.38 L336.19,213.83 L337.46,212.28 L338.73,210.73 L340.01,209.19 L341.3,207.66 L342.6,206.13 L343.9,204.61 L345.2,203.1 L346.52,201.59 L347.84,200.09 L349.17,198.59 L350.5,197.1 L351.84,195.62 L353.19,194.14 L354.55,192.68 L355.91,191.21 L357.28,189.76 L358.65,188.31 L360.04,186.87 L361.43,185.44 L362.82,184.01 L364.23,182.59 L365.64,181.18 L367.06,179.77 L368.49,178.38 L369.92,176.99 L371.36,175.61 L372.81,174.24 L374.27,172.87 L375.73,171.52 L377.21,170.17 L378.69,168.83 L380.17,167.5 L381.67,166.18 L383.17,164.86 L384.68,163.56 L386.2,162.26 L387.73,160.98 L389.26,159.7 L390.81,158.43 L392.36,157.17 L393.92,155.92 L395.48,154.68 L397.06,153.45 L398.64,152.22 L400.23,151.01 L401.83,149.81 L403.44,148.62 L405.06,147.43 L406.68,146.26 L408.32,145.1 L409.96,143.94 L411.6,142.79 L413.25,141.65 L414.91,140.52 L416.58,139.39 L418.25,138.27 L419.93,137.16 L421.61,136.05 L423.3,134.95 L424.99,133.86 L426.68,132.77 L428.38,131.68 L430.08,130.6 L431.79,129.52 L433.5,128.45 L435.21,127.38 L436.93,126.31 L438.64,125.24 L440.36,124.18 L442.08,123.12 L443.8,122.06 L445.52,121 L447.25,119.94 L448.97,118.88 L450.69,117.82 L452.42,116.76 L454.14,115.7 L455.86,114.64 L457.58,113.58 L459.3,112.51 L461.01,111.45 L462.73,110.38 L464.44,109.31 L466.15,108.23 L467.86,107.15 L469.56,106.07 L471.26,104.98 L472.95,103.89 L474.65,102.8 L476.33,101.69 L478.01,100.59 L479.69,99.47 L481.36,98.35 L483.03,97.22 L484.69,96.09 L486.34,94.95 L487.99,93.8 L489.63,92.64 L491.26,91.47 L492.88,90.3 L494.5,89.11 L496.11,87.92 L497.71,86.71 L499.3,85.5 L500.88,84.27 L502.46,83.04 L504.02,81.79 L505.57,80.53 L507.12,79.25 L508.65,77.97 L510.17,76.67 L511.68,75.36 L513.18,74.04 L514.67,72.7 L516.15,71.34 L517.61,69.98 L519.06,68.59 L520.5,67.2 L520.5,67.2 L522.15,67.03 L523.78,66.79 L525.38,66.48 L526.95,66.12 L528.51,65.7 L530.04,65.23 L531.56,64.71 L533.06,64.14 L534.54,63.53 L536.01,62.89 L537.46,62.21 L538.9,61.5 L540.33,60.76 L541.75,60 L543.16,59.22 L544.57,58.43 L545.96,57.62 L547.36,56.81 L548.75,55.99 L550.14,55.17 L551.53,54.35 L552.92,53.54 L554.31,52.74 L555.71,51.95 L557.11,51.18 L558.52,50.43 L559.93,49.7 L561.36,49.01 L562.79,48.35 L564.24,47.72 L565.7,47.13 L567.17,46.59 L568.66,46.09 L570.17,45.64 L571.69,45.25 L573.23,44.92 L574.8,44.64 L576.39,44.44 L578,44.3" fill="none" stroke="#dc14dc" stroke-width="2.9" stroke-linejoin="round" stroke-linecap="round"/>
<line x1="71.3" y1="525.02" x2="71.3" y2="925.5" stroke="#000" stroke-width="2"/>
<line x1="71.3" y1="924.5" x2="612.5" y2="924.5" stroke="#000" stroke-width="2"/>
<line x1="63.6" y1="924.05" x2="71.3" y2="924.05" stroke="#000" stroke-width="2"/>
<text x="58.7" y="928.85" font-size="16" text-anchor="end">0.0</text>
<line x1="63.6" y1="851.5" x2="71.3" y2="851.5" stroke="#000" stroke-width="2"/>
<text x="58.7" y="856.3" font-size="16" text-anchor="end">0.2</text>
<line x1="63.6" y1="778.95" x2="71.3" y2="778.95" stroke="#000" stroke-width="2"/>
<text x="58.7" y="783.75" font-size="16" text-anchor="end">0.4</text>
<line x1="63.6" y1="706.4" x2="71.3" y2="706.4" stroke="#000" stroke-width="2"/>
<text x="58.7" y="711.2" font-size="16" text-anchor="end">0.6</text>
<line x1="63.6" y1="633.85" x2="71.3" y2="633.85" stroke="#000" stroke-width="2"/>
<text x="58.7" y="638.65" font-size="16" text-anchor="end">0.8</text>
<line x1="63.6" y1="561.3" x2="71.3" y2="561.3" stroke="#000" stroke-width="2"/>
<text x="58.7" y="566.1" font-size="16" text-anchor="end">1.0</text>
<line x1="67.3" y1="887.77" x2="71.3" y2="887.77" stroke="#000" stroke-width="2"/>
<line x1="67.3" y1="815.22" x2="71.3" y2="815.22" stroke="#000" stroke-width="2"/>
<line x1="67.3" y1="742.67" x2="71.3" y2="742.67" stroke="#000" stroke-width="2"/>
<line x1="67.3" y1="670.12" x2="71.3" y2="670.12" stroke="#000" stroke-width="2"/>
<line x1="67.3" y1="597.57" x2="71.3" y2="597.57" stroke="#000" stroke-width="2"/>
<line x1="67.3" y1="525.02" x2="71.3" y2="525.02" stroke="#000" stroke-width="2"/>
<line x1="136.2" y1="924.5" x2="136.2" y2="932.5" stroke="#000" stroke-width="2"/>
<text x="136.2" y="951" font-size="15.5" text-anchor="middle">30</text>
<line x1="265.2" y1="924.5" x2="265.2" y2="932.5" stroke="#000" stroke-width="2"/>
<text x="265.2" y="951" font-size="15.5" text-anchor="middle">40</text>
<line x1="394.2" y1="924.5" x2="394.2" y2="932.5" stroke="#000" stroke-width="2"/>
<text x="394.2" y="951" font-size="15.5" text-anchor="middle">50</text>
<line x1="523.2" y1="924.5" x2="523.2" y2="932.5" stroke="#000" stroke-width="2"/>
<text x="523.2" y="951" font-size="15.5" text-anchor="middle">60</text>
<line x1="71.7" y1="924.5" x2="71.7" y2="929" stroke="#000" stroke-width="2"/>
<line x1="200.7" y1="924.5" x2="200.7" y2="929" stroke="#000" stroke-width="2"/>
<line x1="329.7" y1="924.5" x2="329.7" y2="929" stroke="#000" stroke-width="2"/>
<line x1="458.7" y1="924.5" x2="458.7" y2="929" stroke="#000" stroke-width="2"/>
<line x1="587.7" y1="924.5" x2="587.7" y2="929" stroke="#000" stroke-width="2"/>
<text x="289.3" y="995.8" font-size="18.8" text-anchor="start" textLength="169" lengthAdjust="spacingAndGlyphs">Incident angle /deg.</text>
<text x="16.9" y="728.2" font-size="19.6" text-anchor="middle" transform="rotate(-90 16.9 728.2)" textLength="93.5" lengthAdjust="spacingAndGlyphs">Reflectivity</text>
<text x="471.1" y="885.7" font-size="18.3" text-anchor="start" textLength="86" lengthAdjust="spacingAndGlyphs"><tspan style="font-family:&quot;Liberation Serif&quot;, serif">&#955;</tspan>=594 nm</text>
<line x1="338.5" y1="512" x2="381.5" y2="512" stroke="#000000" stroke-width="3"/>
<text x="388.3" y="519.4" font-size="19.4" text-anchor="start">Au</text>
<line x1="338.5" y1="536" x2="381.5" y2="536" stroke="#6c0000" stroke-width="3"/>
<text x="388.3" y="543.4" font-size="19.4" text-anchor="start">Au + AgMy 1 layer</text>
<line x1="338.5" y1="560" x2="381.5" y2="560" stroke="#787a12" stroke-width="3"/>
<text x="388.3" y="567.4" font-size="19.4" text-anchor="start">Au + AgMy 2 layers</text>
<line x1="338.5" y1="583.7" x2="381.5" y2="583.7" stroke="#dc14dc" stroke-width="3"/>
<text x="388.3" y="591.1" font-size="19.4" text-anchor="start">Au + AgMy 3 layers</text>
<path d="M135.8,564.8 L136.97,565.09 L138.18,565.14 L139.41,565.05 L140.61,565.13 L141.74,565.69 L142.86,566.35 L144.03,566.63 L145.23,566.76 L146.44,566.78 L147.65,566.82 L148.9,566.6 L150.12,566.51 L151.24,567.18 L152.39,567.67 L153.64,567.36 L154.94,566.71 L156.16,566.6 L157.31,567.12 L158.44,567.72 L159.6,568.15 L160.78,568.41 L161.98,568.48 L163.19,568.48 L164.37,568.76 L165.56,568.91 L166.75,569.11 L167.89,569.71 L169.07,569.97 L170.3,569.79 L171.56,569.36 L172.79,569.19 L173.97,569.49 L175.13,569.91 L176.3,570.28 L177.51,570.28 L178.75,570 L179.97,569.89 L181.12,570.4 L182.28,570.88 L183.5,570.78 L184.69,570.95 L185.89,570.99 L187.13,570.74 L188.27,571.31 L189.45,571.58 L190.72,571.04 L191.91,571.23 L193.08,571.62 L194.27,571.78 L195.44,572.16 L196.66,572.08 L197.87,572.03 L199,572.72 L200.15,573.27 L201.32,573.57 L202.51,573.75 L203.74,573.56 L205,573.17 L206.22,573.11 L207.38,573.48 L208.59,573.57 L209.82,573.42 L211.04,573.37 L212.23,573.58 L213.34,574.29 L214.51,574.59 L215.81,574 L217.02,574.1 L218.07,575.21 L219.16,575.97 L220.43,575.62 L221.81,574.65 L223.02,574.7 L224.09,575.62 L225.27,575.87 L226.44,576.12 L227.5,577.04 L228.64,577.5 L229.88,577.42 L231.08,577.53 L232.2,578.05 L233.32,578.55 L234.53,578.63 L235.75,578.66 L237,578.52 L238.23,578.53 L239.28,579.36 L240.38,579.93 L241.7,579.54 L243.04,579.08 L244.15,579.65 L245.25,580.22 L246.51,580.11 L247.6,580.72 L248.69,581.32 L249.88,581.52 L250.93,582.26 L252.08,582.59 L253.33,582.56 L254.46,582.98 L255.59,583.41 L256.73,583.8 L257.89,584.09 L259.17,584.02 L260.31,584.4 L261.34,585.13 L262.56,585.24 L263.76,585.43 L264.72,586.37 L265.8,586.92 L267.19,586.58 L268.48,586.54 L269.52,587.2 L270.58,587.79 L271.62,588.45 L272.7,589.01 L273.88,589.28 L275.02,589.65 L276.29,589.71 L277.42,590.13 L278.27,591.23 L279.23,592.05 L280.37,592.42 L281.58,592.64 L282.75,592.97 L283.83,593.5 L284.91,594.01 L286.05,594.41 L287.11,595 L288.15,595.59 L289.24,596.1 L290.25,596.76 L291.17,597.59 L292.16,598.3 L293.44,598.42 L294.77,598.48 L295.85,599 L296.76,599.86 L297.72,600.59 L298.84,601.05 L299.73,601.91 L300.83,602.4 L302.42,602.1 L303.47,602.7 L304.07,604.01 L304.94,604.89 L306.03,605.41 L307.08,606.01 L307.96,606.84 L309,607.45 L309.89,608.28 L310.55,609.42 L311.74,609.81 L313.08,610.01 L314.06,610.71 L314.97,611.5 L316.2,611.88 L317.48,612.21 L318.04,613.44 L318.62,614.63 L319.75,615.16 L320.54,616.08 L321.08,617.29 L321.8,618.28 L322.93,618.81 L324.36,619.04 L325.3,619.8 L325.87,620.95 L326.42,622.1 L327.51,622.71 L328.78,623.15 L329.46,624.17 L330.18,625.15 L331.05,625.98 L331.94,626.8 L332.45,627.97 L332.91,629.15 L333.88,629.9 L334.66,630.81 L335.3,631.84 L336.19,632.66 L336.88,633.65 L337.26,634.88 L338.09,635.75 L338.84,636.68 L339.43,637.73 L340.54,638.4 L341.38,639.27 L342.07,640.26 L342.73,641.26 L343.26,642.36 L343.93,643.35 L344.88,644.16 L346.13,644.77 L346.8,645.78 L347.04,647.06 L347.85,647.97 L348.82,648.78 L349.18,649.98 L349.1,651.43 L349.34,652.69 L350.19,653.58 L351.29,654.33 L352.15,655.22 L352.66,656.32 L352.69,657.68 L353.11,658.82 L353.95,659.72 L354.23,660.94 L354.77,662.01 L356.08,662.67 L356.86,663.62 L356.85,664.98 L357.42,666.04 L358.21,666.99 L358.5,668.19 L358.68,669.43 L359.26,670.49 L360.08,671.43 L360.24,672.68 L360.29,673.98 L361.02,674.97 L362.16,675.76 L362.82,676.78 L362.97,678.03 L363.47,679.12 L363.89,680.25 L364.22,681.42 L365.38,682.22 L366.5,683.05 L366.92,684.18 L367.11,685.41 L367.01,686.75 L367.35,687.92 L368.1,688.91 L368.37,690.09 L368.56,691.31 L368.91,692.47 L369.3,693.61 L369.81,694.69 L370.03,695.9 L370.11,697.15 L370.81,698.17 L371.74,699.1 L372.49,700.1 L373.46,701.02 L374.23,702.01 L374.3,703.27 L374.22,704.58 L374.7,705.69 L375.12,706.82 L375.35,708.01 L375.83,709.12 L376.26,710.24 L376.2,711.54 L376.22,712.8 L376.87,713.85 L377.31,714.97 L377.66,716.12 L378.56,717.08 L379.4,718.06 L379.44,719.32 L379.61,720.53 L380.46,721.51 L380.67,722.71 L380.34,724.08 L380.64,725.25 L381.18,726.34 L381.52,727.49 L382.19,728.54 L383.2,729.48 L383.76,730.57 L383.59,731.88 L383.5,733.16 L384.16,734.22 L384.86,735.27 L385.35,736.37 L385.69,737.53 L385.86,738.73 L386.05,739.93 L386.51,741.05 L387.06,742.14 L387.1,743.38 L387.53,744.51 L388.02,745.62 L387.81,746.93 L388.36,748.03 L389.31,749.01 L389.29,750.26 L389.1,751.56 L389.26,752.77 L389.27,754.01 L389.39,755.22 L389.8,756.35 L390.07,757.53 L390.2,758.73 L390.6,759.87 L391.54,760.87 L392.25,761.92 L391.87,763.26 L391.79,764.53 L392.61,765.56 L392.82,766.74 L392.95,767.95 L393.73,768.99 L393.54,770.28 L393.34,771.57 L394.18,772.6 L394.28,773.81 L394.21,775.06 L394.87,776.14 L395.21,777.29 L395.56,778.44 L396.28,779.51 L396.52,780.69 L396.42,781.94 L396.6,783.14 L397.11,784.25 L397.74,785.34 L398.21,786.46 L398.18,787.71 L398.03,788.97 L398.52,790.09 L399.27,791.15 L399.08,792.43 L398.37,793.82 L398.64,794.99 L399.93,795.94 L400.86,796.96 L400.58,798.25 L400.11,799.59 L400.19,800.8 L400.77,801.91 L401.32,803.01 L401.9,804.12 L402.4,805.24 L402.17,806.52 L402.33,807.71 L402.72,808.86 L402.36,810.17 L402.66,811.33 L403.84,812.3 L404.24,813.45 L404.05,814.72 L404.28,815.9 L404.87,817 L404.88,818.23 L404.34,819.58 L404.83,820.7 L406.1,821.65 L406.27,822.84 L405.61,824.22 L405.44,825.5 L405.71,826.67 L406.48,827.72 L407.32,828.77 L407.92,829.86 L408.59,830.94 L408.66,832.16 L408.33,833.47 L408.5,834.66 L409,835.78 L409.18,836.97 L409.15,838.21 L409.31,839.41 L409.58,840.58 L410.06,841.71 L410.4,842.86 L410.51,844.07 L411.01,845.18 L411.7,846.25 L411.96,847.43 L412.01,848.65 L412.18,849.85 L412.42,851.03 L412.69,852.2 L413,853.36 L413.57,854.46 L414.02,855.58 L413.82,856.87 L413.71,858.14 L414.23,859.25 L414.75,860.36 L415.19,861.48 L416.05,862.5 L416.59,863.59 L416.56,864.85 L416.59,866.08 L416.84,867.26 L417.8,868.21 L418.75,869.15 L418.4,870.52 L418,871.95 L418.84,872.91 L419.87,873.75 L420.16,874.92 L420.22,876.25 L420.71,877.37 L421.3,878.45 L421.85,879.62 L422.92,880.39 L424.15,880.83 L425.37,881.41 L426.9,881.45 L428.05,880.62 L428.68,879.41 L429.06,878.13 L429.84,877.23 L430.76,876.39 L431.35,875.33 L432.08,874.33 L432.67,873.24 L432.91,872.03 L433.42,870.91 L434.28,869.87 L434.34,868.62 L433.89,867.28 L434.43,866.16 L435.06,865.04 L434.87,863.78 L434.98,862.58 L435.25,861.41 L434.89,860.13 L434.72,858.89 L435.22,857.75 L435.86,856.64 L436.31,855.5 L436.41,854.3 L436.44,853.09 L436.77,851.93 L436.98,850.75 L437.02,849.53 L437.09,848.32 L437.37,847.15 L437.59,845.97 L437.47,844.71 L437.68,843.53 L437.98,842.36 L438.02,841.14 L438.11,839.93 L438.23,838.72 L438.91,837.64 L439.85,836.62 L440.23,835.47 L440.24,834.24 L440.12,832.99 L440.5,831.84 L441.47,830.83 L441.95,829.7 L441.83,828.44 L441.62,827.16 L441.49,825.9 L441.75,824.73 L442.67,823.7 L442.95,822.53 L442.55,821.22 L443.09,820.1 L443.49,818.96 L443.01,817.63 L442.95,816.38 L443.55,815.28 L443.95,814.14 L444.27,812.98 L444.93,811.9 L445.59,810.81 L446.03,809.67 L446.52,808.55 L447.01,807.42 L446.84,806.16 L446.29,804.81 L446.29,803.58 L446.48,802.4 L446.8,801.24 L447.42,800.14 L447.96,799.02 L448.02,797.81 L447.67,796.51 L447.89,795.33 L448.6,794.24 L448.97,793.1 L449.19,791.91 L449.37,790.72 L449.67,789.56 L450.24,788.45 L450.54,787.28 L450.45,786.04 L450.48,784.82 L450.34,783.56 L450.06,782.28 L450.64,781.18 L451.27,780.07 L451.44,778.88 L452,777.77 L452.24,776.59 L452.12,775.34 L452.46,774.18 L453.01,773.07 L453.53,771.94 L453.83,770.78 L453.71,769.53 L453.66,768.3 L454,767.14 L454.53,766.01 L454.98,764.88 L455,763.66 L454.68,762.37 L454.67,761.15 L455.07,760 L455.27,758.81 L455.48,757.63 L455.92,756.49 L456.3,755.34 L456.75,754.2 L457.06,753.04 L457.52,751.9 L458.08,750.79 L458.11,749.57 L458.2,748.36 L458.51,747.2 L458.29,745.93 L457.74,744.6 L458.11,743.45 L459.05,742.4 L459.89,741.35 L460.45,740.23 L460.44,739 L460.56,737.8 L460.82,736.63 L460.95,735.43 L460.94,734.2 L460.98,732.99 L461.05,731.77 L461.25,730.59 L461.62,729.44 L461.7,728.23 L462.34,727.13 L463.06,726.05 L462.84,724.78 L462.96,723.58 L463.45,722.45 L463.35,721.2 L463.29,719.96 L463.83,718.85 L464.41,717.74 L464.51,716.54 L464.71,715.35 L465.59,714.31 L465.97,713.17 L465.67,711.87 L465.61,710.63 L466,709.48 L466.42,708.34 L466.51,707.13 L466.69,705.94 L466.76,704.72 L467,703.54 L467.85,702.51 L468.36,701.4 L468.15,700.11 L468.22,698.89 L468.77,697.79 L469.08,696.63 L469.55,695.51 L470.27,694.45 L470.35,693.23 L470.49,692.03 L471.08,690.94 L471.21,689.73 L471.14,688.47 L471.19,687.24 L471.16,685.99 L471.6,684.86 L472.78,683.94 L473.12,682.79 L472.41,681.34 L472.16,680.02 L472.89,678.98 L473.89,678.01 L474.21,676.85 L474.36,675.64 L474.71,674.5 L474.91,673.3 L475.14,672.11 L475.46,670.95 L475.73,669.78 L476.37,668.72 L477.13,667.69 L477.49,666.55 L477.53,665.3 L477.73,664.1 L478.24,663 L478.93,661.96 L479.77,660.98 L480.08,659.81 L479.96,658.51 L480.04,657.26 L480.25,656.06 L480.63,654.92 L481.31,653.88 L482.07,652.88 L482.68,651.82 L483.41,650.81 L483.88,649.71 L483.73,648.37 L484.4,647.34 L485.1,646.32 L484.65,644.86 L484.88,643.66 L485.78,642.72 L486.38,641.67 L486.8,640.54 L487.19,639.4 L487.69,638.31 L488.27,637.25 L488.48,636.03 L488.35,634.67 L488.87,633.58 L489.65,632.6 L489.93,631.42 L490.53,630.36 L491.37,629.42 L491.93,628.36 L492.67,627.38 L493.36,626.37 L493.78,625.24 L494.19,624.11 L494.33,622.84 L494.56,621.62 L495.41,620.69 L496.18,619.73 L496.55,618.57 L497.21,617.56 L497.85,616.54 L498.26,615.4 L499.25,614.56 L500.07,613.64 L500.17,612.33 L500.54,611.16 L501.41,610.27 L502.29,609.39 L502.86,608.33 L503.2,607.14 L503.5,605.93 L504.07,604.87 L504.51,603.74 L505.09,602.67 L506.35,602.04 L506.9,600.96 L507.3,599.8 L507.3,599.8 L507.45,601.02 L507.73,602.2 L508.29,603.31 L509.02,604.4 L508.83,605.69 L508.57,606.98 L509.33,608.07 L510.16,609.17 L510.54,610.35 L510.44,611.6 L509.74,612.93 L509.33,614.21 L509.75,615.38 L509.83,616.59 L509.78,617.82 L510.61,618.94 L511.11,620.11 L510.81,621.37 L511,622.57 L511.76,623.71 L511.97,624.91 L511.59,626.17 L511.76,627.38 L512.3,628.54 L512.38,629.75 L512.27,630.99 L512.22,632.22 L512.41,633.42 L512.73,634.6 L512.75,635.83 L512.4,637.12 L512.54,638.34 L513.14,639.47 L513.54,640.63 L514.01,641.78 L514.14,642.99 L513.87,644.31 L514.12,645.51 L514.94,646.56 L515.47,647.67 L515.98,648.78 L516.65,649.83 L516.95,651.01 L517.16,652.22 L517.64,653.33 L518.62,654.22 L519.32,655.21 L519.27,656.57 L519.55,657.8 L520.14,658.86 L520.6,660 L521.43,660.92 L522.21,661.86 L522.92,662.84 L523.95,663.59 L524.61,664.6 L524.89,665.92 L525.46,667.03 L526.35,667.87 L527.3,668.65 L528.2,669.47 L528.73,670.66 L529.43,671.7 L530.35,672.5 L531.17,673.43 L532.38,673.9 L533.5,674.46 L534.24,675.48 L535.26,676.16 L536.75,676.18 L537.87,676.66 L538.37,678.09 L539.1,679.22 L539.96,680.16 L540.89,681.02 L542.23,681.15 L543.46,681.45 L544.48,682.14 L545.52,682.82 L546.7,683.18 L548.1,683.03 L549.52,682.75 L550.7,683 L551.54,684.19 L552.48,685.18 L553.47,686.05 L554.54,686.72 L555.9,686.47 L557.23,686.28 L558.45,686.41 L559.66,686.59 L560.77,687.14 L561.85,687.81 L563.04,688.1 L564.26,688.21 L565.42,688.58 L566.57,689.1 L567.78,689.24 L569.01,689.28 L570.2,689.51 L571.46,689.35 L572.67,689.49 L573.79,690.27 L575.01,690.28 L576.26,690.09 L577.43,690.6 L578.67,690.49 L579.9,690.35 L581.05,691.08 L582.24,691.42 L583.47,691.37 L584.7,691.25 L585.96,690.83 L587.18,690.8 L588.35,691.41 L589.56,691.57 L590.79,691.47 L591.99,691.69 L593.19,691.91 L594.41,691.96 L595.64,691.82 L596.88,691.43 L598.12,691.1 L599.3,691.64 L600.46,692.59 L601.66,692.81 L602.91,692.42 L604.11,692.6 L605.3,693.02 L606.53,692.91 L607.72,693.22 L608.91,693.57 L610.14,693.46 L611.4,693" fill="none" stroke="#000000" stroke-width="2.8" stroke-linejoin="round" stroke-linecap="round"/>
<path d="M135.8,699.2 L136.98,698.95 L138.17,698.81 L139.4,698.69 L140.76,698.93 L141.95,698.6 L142.76,697.32 L143.75,696.56 L144.91,696.22 L146,695.7 L147.23,695.56 L148.42,695.35 L149.52,694.87 L150.65,694.38 L151.84,694.04 L153.07,694 L154.33,693.84 L155.58,693.93 L156.73,694.44 L157.81,695.07 L158.86,695.76 L160.05,696 L161.24,696.22 L162.27,697 L163.4,697.55 L164.68,697.48 L165.9,697.6 L167.13,697.87 L168.34,697.33 L169.53,697.17 L170.89,698.07 L172.07,697.67 L173.02,696.22 L174.21,696 L175.51,696.39 L176.72,696.4 L177.87,696.04 L178.99,695.34 L180.2,695 L181.41,695.46 L182.59,695.69 L183.87,695.26 L185.1,695.29 L186.29,695.57 L187.52,695.64 L188.63,696.14 L189.71,696.81 L190.87,697.12 L192.09,697.01 L193.28,696.93 L194.46,697.19 L195.65,697.29 L196.84,697.18 L198.06,697.36 L199.3,697.71 L200.54,697.98 L201.71,697.67 L202.84,696.81 L204.01,696.02 L205.25,696.11 L206.44,696.92 L207.64,696.98 L208.84,697.07 L210.01,697.35 L211.25,697.48 L212.29,698.13 L213.48,698.4 L214.72,698.49 L215.65,699.47 L216.76,699.97 L218.03,699.75 L219.16,700.26 L220.33,700.7 L221.54,700.78 L222.73,701.05 L223.93,701.15 L225.14,701.01 L226.34,701 L227.53,701.08 L228.73,701.17 L229.95,701.27 L230.99,701.95 L231.83,702.95 L232.98,703.28 L234.35,703.31 L235.59,703.62 L236.52,704.4 L237.2,705.55 L238,706.52 L239.04,707.16 L240.17,707.63 L241.2,708.28 L242.24,708.91 L243.52,709.04 L244.66,709.42 L245.65,710.19 L246.81,710.53 L248.06,710.62 L249.23,710.9 L250.3,711.49 L251.34,712.18 L252.56,712.33 L253.81,712.38 L254.86,713.02 L256,713.41 L257.18,713.71 L258.19,714.41 L259.3,714.88 L260.34,715.49 L261.06,716.55 L261.96,717.3 L263.15,717.74 L264.17,718.42 L264.78,719.5 L265.29,720.66 L266.18,721.46 L267.15,722.21 L268.01,723.06 L268.46,724.27 L269.33,725.12 L270.97,725.22 L271.75,726.13 L272.17,727.42 L273.16,728.12 L273.91,729.08 L274.46,730.29 L275.74,730.65 L277.02,731 L277.86,731.88 L278.74,732.69 L279.47,733.69 L280.36,734.51 L281.14,735.43 L281.79,736.5 L283.01,736.96 L284.45,737.2 L285.22,738.15 L285.4,739.66 L286.18,740.58 L287.27,741.21 L287.89,742.27 L288.55,743.29 L289.77,743.81 L291.09,744.26 L291.57,745.44 L291.76,746.86 L292.38,747.9 L293.61,748.44 L294.93,748.92 L295.36,750.12 L295.32,751.68 L295.92,752.74 L297.29,753.2 L298.3,753.95 L298.68,755.16 L299.28,756.22 L300.01,757.17 L300.72,758.14 L301.6,759 L302.38,759.92 L303.03,760.93 L303.74,761.9 L304.71,762.71 L305.36,763.72 L305.44,765.11 L306.04,766.15 L306.96,766.99 L307.37,768.16 L307.94,769.22 L308.93,770.02 L309.48,771.1 L309.75,772.33 L310.4,773.35 L311.57,774.06 L312.35,775 L312.29,776.42 L312.69,777.58 L313.57,778.46 L314.21,779.48 L314.78,780.55 L315.59,781.48 L316.42,782.39 L316.97,783.47 L317.44,784.58 L318.08,785.61 L318.52,786.74 L318.89,787.9 L319.45,788.97 L319.95,790.07 L320.49,791.14 L320.67,792.39 L320.83,793.66 L321.74,794.55 L322.64,795.45 L323.04,796.59 L323.71,797.61 L324.66,798.49 L324.98,799.67 L325.14,800.93 L325.64,802.02 L325.95,803.2 L326.12,804.45 L326.47,805.61 L326.97,806.7 L327.69,807.7 L328.48,808.66 L329.07,809.72 L329.6,810.8 L330.11,811.89 L330.81,812.9 L331.55,813.89 L331.76,815.11 L332.04,816.3 L332.62,817.36 L332.83,818.58 L333.06,819.79 L333.27,821 L333.88,822.05 L335.15,822.83 L335.86,823.85 L335.97,825.1 L335.44,826.61 L335.71,827.8 L337.2,828.5 L337.56,829.65 L337.55,830.95 L338.06,832.04 L338.83,833.03 L339.55,834.04 L339.48,835.36 L339.6,836.61 L340.35,837.61 L340.84,838.71 L341.14,839.88 L341.63,840.98 L342.13,842.08 L342.99,843.04 L343.77,844.03 L343.68,845.35 L343.54,846.69 L344.02,847.8 L344.77,848.8 L345.07,849.97 L345.2,851.21 L345.48,852.39 L345.47,853.68 L345.94,854.79 L347.42,855.52 L348.22,856.5 L347.73,857.97 L347.54,859.33 L348.08,860.41 L348.91,861.39 L349.87,862.31 L350.31,863.43 L350.52,864.64 L351.46,865.56 L352.39,866.48 L352.1,867.89 L351.31,869.52 L351.81,870.61 L353.28,871.31 L354.05,872.29 L354.37,873.46 L354.67,874.64 L354.87,875.87 L355.66,876.83 L356.33,877.85 L356.53,879.08 L357.15,880.12 L357.77,881.16 L358.31,882.23 L358.9,883.28 L359.47,884.34 L360.46,885.17 L361.65,885.87 L362.39,886.82 L362.67,888.04 L362.85,889.32 L363.15,890.55 L363.56,891.71 L364.09,892.79 L364.94,893.68 L365.93,894.48 L366.91,895.28 L367.68,896.21 L367.84,897.54 L367.98,898.88 L368.63,899.9 L369.51,900.75 L370.16,901.77 L370.71,902.88 L371.47,903.82 L372.23,904.78 L373.09,905.65 L373.98,906.52 L375.03,907.21 L376.31,907.38 L377.51,907.45 L378.62,907.4 L379.78,907.64 L381.24,908.21 L382.49,907.81 L383.33,906.76 L384.36,906.08 L385.5,905.56 L386.5,904.84 L387.17,903.74 L387.57,902.4 L388.4,901.55 L389.74,901.17 L390.81,900.49 L391.21,899.23 L391.56,897.98 L392.23,896.99 L392.87,895.98 L393.8,895.17 L394.81,894.38 L395.23,893.23 L396.04,892.3 L397.26,891.57 L397.71,890.43 L397.63,889.04 L397.85,887.81 L398.74,886.89 L399.63,885.96 L400.07,884.82 L400.36,883.63 L400.57,882.42 L400.81,881.22 L401.15,880.07 L401.8,879.02 L402.13,877.85 L401.94,876.52 L402.37,875.4 L402.96,874.32 L403.14,873.12 L403.65,872.02 L404.67,871.08 L405.42,870.06 L405.47,868.81 L405.15,867.45 L405.43,866.27 L406.38,865.32 L406.71,864.16 L406.55,862.83 L406.73,861.62 L407.14,860.49 L407.58,859.36 L408.3,858.35 L408.99,857.32 L409.38,856.18 L409.63,854.99 L410.12,853.89 L410.8,852.86 L410.72,851.54 L410.69,850.22 L411.41,849.22 L411.91,848.12 L412.3,846.98 L413.06,845.99 L413.61,844.91 L413.86,843.71 L414.71,842.76 L415.77,841.91 L416.11,840.75 L416.21,839.48 L416.59,838.34 L417.04,837.22 L417.63,836.16 L418.23,835.11 L418.15,833.77 L418.09,832.44 L418.83,831.45 L419.66,830.49 L420.29,829.45 L420.7,828.32 L421.55,827.36 L422.27,826.35 L421.93,824.92 L421.73,823.56 L421.88,822.33 L422,821.09 L422.82,820.12 L423.93,819.25 L424.17,818.06 L424.02,816.74 L424.71,815.71 L425.66,814.77 L425.98,813.61 L426.38,812.47 L427.24,811.48 L428.19,810.51 L428.77,809.42 L428.72,808.14 L428.57,806.85 L429.03,805.72 L429.86,804.69 L430.01,803.48 L429.75,802.17 L429.97,800.99 L430.29,799.83 L430.35,798.6 L430.24,797.34 L430.26,796.11 L430.49,794.93 L431.04,793.82 L432.01,792.81 L432.23,791.63 L432.22,790.39 L433.04,789.35 L433.1,788.13 L432.96,786.85 L433.92,785.85 L434.75,784.83 L434.72,783.58 L434.39,782.25 L434.74,781.1 L435.3,780.01 L435.54,778.83 L435.99,777.71 L436.21,776.52 L435.89,775.14 L435.89,773.86 L436.44,772.77 L437.11,771.72 L437.85,770.71 L438.61,769.72 L439.17,768.65 L439.44,767.46 L439.7,766.25 L440.41,765.25 L441.42,764.41 L442.02,763.37 L442.26,762.14 L442.89,761.12 L443.66,760.17 L444.06,759.01 L444.78,758.05 L445.52,757.08 L445.92,755.93 L446.34,754.78 L446.84,753.68 L447.69,752.78 L448.09,751.62 L448.36,750.38 L449.15,749.45 L449.96,748.53 L450.69,747.56 L451.08,746.4 L451.59,745.31 L452.3,744.33 L452.84,743.25 L453.37,742.17 L453.96,741.12 L454.67,740.13 L455.23,739.06 L455.22,737.72 L455.43,736.49 L456.56,735.7 L457.04,734.59 L457.02,733.28 L457.89,732.34 L458.9,731.46 L459.24,730.29 L459.48,729.1 L460.14,728.05 L460.85,727.02 L461.4,725.93 L461.49,724.69 L461.53,723.44 L461.57,722.18 L461.91,721.02 L462.92,720.1 L463.77,719.14 L464.27,718.06 L464.35,716.81 L464.04,715.36 L464.11,714.05 L464.82,713.04 L465.52,712.03 L466.31,711.08 L467.32,710.28 L468.02,709.31 L468.56,708.22 L469.26,707.24 L470.03,706.32 L470.93,705.51 L471.95,704.81 L472.66,703.84 L472.96,702.46 L473.75,701.55 L475.1,701.19 L476.12,700.53 L476.72,699.41 L477.17,698.15 L478.06,697.34 L478.99,696.58 L479.63,695.52 L480.69,694.88 L482.04,694.51 L483.2,693.94 L483.87,692.9 L483.97,691.39 L484.49,690.27 L485.79,689.77 L486.8,689.01 L487.1,687.74 L487.5,686.57 L488.57,685.82 L489.5,684.98 L489.89,683.81 L490.28,682.64 L491.09,681.73 L491.82,680.77 L491.98,679.41 L492.47,678.24 L493.71,677.68 L494.79,677.05 L495.66,676.23 L496.52,675.41 L497.27,674.43 L498.14,673.58 L499.21,673.01 L500.47,672.69 L501.56,672.15 L502.5,671.38 L503.72,670.99 L504.76,670.3 L505.43,669.19 L506.36,668.37 L507.25,667.5 L507.69,666.26 L508.02,664.99 L508.61,663.97 L509.5,663.1 L509.5,663.1 L509.18,664.36 L509.6,665.55 L509.93,666.73 L510.37,667.89 L510.64,669.08 L510.58,670.33 L511.02,671.48 L511.71,672.56 L512.03,673.73 L512.07,674.98 L511.89,676.31 L512.33,677.46 L513.1,678.47 L513.22,679.74 L513.57,680.92 L514.64,681.78 L515.52,682.7 L515.96,683.82 L516.25,685.04 L516.65,686.21 L517.57,687.07 L518.46,687.93 L518.99,689.02 L519.54,690.11 L520.15,691.18 L521.08,691.98 L522.02,692.77 L522.77,693.71 L523.35,694.84 L523.82,696.11 L524.65,697.02 L525.71,697.68 L526.93,698.13 L528.18,698.5 L529.13,699.25 L530.06,700.02 L531.01,700.78 L531.91,701.62 L533.03,702.11 L534.2,702.52 L535.38,702.87 L536.43,703.48 L537.14,704.76 L538.03,705.72 L539.33,705.83 L540.78,705.55 L542,705.75 L542.82,706.97 L543.73,708.01 L544.89,708.4 L546.01,708.93 L547.1,709.53 L548.36,709.63 L549.63,709.66 L550.76,710.16 L552,710.26 L553.33,709.96 L554.54,710.07 L555.71,710.4 L556.83,711.02 L557.99,711.42 L559.29,711.07 L560.49,711.24 L561.56,712.2 L562.71,712.81 L563.95,712.74 L565.21,712.57 L566.36,713.21 L567.49,714.06 L568.73,713.98 L570.02,713.46 L571.26,713.31 L572.46,713.55 L573.65,713.97 L574.87,714.12 L576.12,713.67 L577.36,713.48 L578.56,713.81 L579.77,714.01 L580.98,714.18 L582.18,714.52 L583.39,714.89 L584.62,714.75 L585.86,714.34 L587.07,714.61 L588.28,714.87 L589.51,714.55 L590.73,714.64 L591.94,715.07 L593.17,715.1 L594.39,714.58 L595.61,713.87 L596.82,713.81 L598.05,714.31 L599.29,714.91 L600.52,715.02 L601.72,714.53 L602.94,714.49 L604.15,714.21 L605.3,713.4 L606.51,713.32 L607.76,713.53 L608.97,713.39 L610.19,713.32 L611.4,713.2" fill="none" stroke="#6c0000" stroke-width="2.8" stroke-linejoin="round" stroke-linecap="round"/>
<path d="M135.8,797.8 L136.97,798.09 L138.16,798.34 L139.3,798.76 L140.36,799.35 L141.51,799.73 L142.49,800.5 L143.45,801.27 L144.67,801.48 L145.81,801.89 L146.81,802.56 L147.82,803.21 L148.88,803.79 L150.01,804.27 L150.96,805.01 L152.01,805.62 L152.9,806.44 L153.68,807.44 L154.68,808.11 L155.54,808.99 L156.44,809.83 L157.64,810.21 L158.83,810.58 L159.66,811.54 L160.59,812.33 L161.87,812.54 L162.82,813.31 L163.61,814.34 L164.86,814.58 L166.22,814.66 L167.25,815.28 L168.13,816.16 L169.11,816.87 L170.05,817.65 L171.01,818.39 L172.2,818.75 L173.18,819.45 L174.19,820.12 L175.38,820.47 L176.19,821.45 L177.17,822.15 L178.67,822.04 L179.92,822.32 L180.97,822.92 L181.91,823.7 L182.77,824.58 L183.77,825.26 L184.44,826.41 L185.32,827.26 L186.68,827.42 L187.87,827.83 L188.77,828.64 L189.52,829.66 L190.48,830.39 L191.48,831.07 L192.29,832.01 L193.21,832.79 L194.26,833.39 L195.3,834.02 L196.27,834.74 L197.28,835.4 L198.3,836.05 L199.33,836.69 L200.42,837.25 L201.02,838.44 L201.5,839.77 L202.72,840.18 L203.98,840.53 L204.87,841.35 L205.98,841.89 L207.09,842.43 L207.75,843.53 L208.31,844.75 L209.22,845.55 L210.38,846.03 L211.56,846.49 L212.35,847.42 L212.9,848.66 L213.94,849.29 L215.37,849.44 L216.6,849.84 L217.09,851.15 L217.51,852.54 L218.69,853 L219.75,853.6 L220.55,854.53 L221.55,855.21 L222.67,855.74 L223.82,856.23 L224.52,857.29 L225.11,858.48 L226.11,859.16 L227.24,859.66 L228.41,860.13 L229.27,860.98 L229.9,862.14 L230.87,862.86 L232.02,863.33 L232.89,864.18 L233.85,864.91 L234.96,865.43 L235.96,866.1 L237.09,866.57 L238.13,867.17 L239.24,867.67 L240.43,868.01 L241.31,868.86 L242.31,869.51 L243.42,869.99 L244.25,870.97 L245.14,871.86 L246.18,872.49 L247.29,872.97 L248.61,872.96 L249.7,873.47 L250.51,874.64 L251.54,875.29 L252.77,875.48 L253.97,875.74 L255.01,876.37 L256.04,877 L257.17,877.43 L258.23,878 L259.32,878.5 L260.61,878.62 L261.91,878.7 L262.89,879.44 L263.76,880.39 L264.95,880.67 L266.21,880.74 L267.29,881.21 L268.39,881.61 L269.54,881.85 L270.67,882.2 L271.83,882.36 L273.01,882.29 L274.19,882.3 L275.39,882.37 L276.59,882.31 L277.8,882.23 L279.01,882.13 L280.1,881.5 L281.11,880.65 L282.29,880.42 L283.57,880.52 L284.74,880.25 L285.77,879.52 L286.9,879.11 L288.13,879 L289.36,878.86 L290.56,878.65 L291.69,878.22 L292.76,877.64 L293.65,876.61 L294.76,876.16 L296.19,876.48 L297.4,876.25 L298.44,875.61 L299.52,875.07 L300.52,874.34 L301.53,873.68 L302.69,873.3 L303.81,872.84 L304.92,872.35 L305.77,871.4 L306.42,870.16 L307.59,869.78 L308.99,869.74 L309.96,869.03 L310.86,868.2 L311.88,867.57 L312.79,866.77 L313.75,866.03 L314.84,865.49 L316.02,865.06 L317.13,864.52 L318.12,863.83 L319.29,863.38 L320.42,862.86 L321.28,862 L321.99,860.95 L322.68,859.88 L323.51,858.98 L324.34,858.08 L325.21,857.24 L326.18,856.52 L327.31,856.02 L328.56,855.67 L329.42,854.81 L329.91,853.46 L330.65,852.45 L331.8,851.97 L332.8,851.3 L333.58,850.33 L334.34,849.34 L335.35,848.68 L336.71,848.47 L338.1,848.3 L339.26,847.84 L339.94,846.75 L340.77,845.85 L341.91,845.35 L342.76,844.48 L343.53,843.51 L344.36,842.61 L345.43,842.02 L346.74,841.75 L347.88,841.26 L348.72,840.37 L349.36,839.22 L350.08,838.19 L351.07,837.5 L352.07,836.82 L352.92,835.96 L354.08,835.49 L355.38,835.19 L356.2,834.28 L356.9,833.22 L357.83,832.46 L358.6,831.49 L359.29,830.42 L360.36,829.83 L361.82,829.72 L362.88,829.12 L363.37,827.81 L364.07,826.77 L365.38,826.46 L366.81,826.29 L367.55,825.3 L367.84,823.76 L368.44,822.61 L369.67,822.2 L371.19,822.12 L372.22,821.47 L372.68,820.16 L373.28,819.01 L374.02,818.03 L374.94,817.26 L376.08,816.73 L377.08,816.04 L377.91,815.16 L378.45,813.98 L379.29,813.11 L380.45,812.59 L381.43,811.88 L382.45,811.19 L383.16,810.2 L383.86,809.19 L385.02,808.65 L385.8,807.72 L386.45,806.68 L387.7,806.2 L388.69,805.48 L389.09,804.2 L389.43,802.88 L390.25,802 L391.47,801.48 L392.36,800.66 L392.78,799.42 L393.25,798.23 L394.05,797.34 L395.22,796.76 L396.13,795.96 L396.61,794.78 L397.55,794 L398.89,793.56 L399.97,792.89 L400.51,791.77 L400.8,790.44 L401.24,789.25 L401.99,788.3 L402.96,787.54 L403.95,786.79 L404.99,786.08 L405.99,785.34 L406.43,784.15 L406.99,783.06 L408.18,782.46 L409.01,781.58 L409.35,780.31 L409.62,778.99 L410.07,777.81 L411.15,777.13 L412.3,776.51 L412.79,775.35 L413.38,774.28 L414.47,773.61 L415.49,772.88 L416.35,772.03 L417.27,771.22 L417.93,770.21 L418.44,769.07 L419.12,768.08 L419.83,767.1 L420.71,766.26 L421.57,765.41 L422.38,764.52 L423.22,763.65 L423.98,762.72 L424.89,761.91 L425.66,760.98 L426.13,759.8 L426.62,758.63 L427.3,757.63 L428.17,756.78 L429.1,756 L430.37,755.51 L431.65,755.05 L432.26,753.98 L432.61,752.68 L433.06,751.45 L433.77,750.46 L434.77,749.75 L435.63,748.9 L436.55,748.11 L437.62,747.47 L438.46,746.61 L439.03,745.48 L439.55,744.29 L440.59,743.63 L441.79,743.13 L442.72,742.36 L443.64,741.58 L444.48,740.72 L445.06,739.57 L445.6,738.38 L446.35,737.4 L447.35,736.71 L448.7,736.41 L449.81,735.85 L450.5,734.81 L451.25,733.83 L452.42,733.34 L453.88,733.21 L454.85,732.5 L455.53,731.43 L456.25,730.42 L456.69,729.04 L457.42,728 L458.6,727.55 L459.65,726.94 L460.71,726.34 L462.15,726.24 L463.39,725.89 L463.97,724.66 L464.74,723.67 L465.8,723.08 L466.84,722.46 L468.06,722.11 L469.01,721.37 L469.64,720.16 L470.58,719.39 L471.69,718.89 L472.59,718.07 L473.29,716.93 L474.04,715.87 L475.2,715.43 L476.65,715.47 L477.86,715.12 L478.62,714.06 L479.38,712.99 L480.51,712.53 L481.59,711.99 L482.52,711.19 L483.73,710.85 L485.07,710.75 L486.17,710.24 L487.14,709.52 L488.12,708.81 L489.07,708.05 L490.12,707.46 L491.26,707.01 L492.32,706.45 L493.29,705.71 L494.25,704.98 L495.23,704.27 L496.43,703.92 L497.77,703.8 L498.74,703.07 L499.76,702.43 L501.03,702.18 L501.79,701.12 L502.39,699.82 L503.55,699.4 L504.89,699.24 L506.05,698.8 L507,698.03 L507.65,696.84 L508.23,695.58 L509.19,694.86 L510.45,694.54 L511.4,693.8 L511.4,693.8 L512.35,694.69 L512.74,695.86 L513.18,697.02 L513.78,698.09 L514.78,698.88 L515.53,699.85 L515.64,701.34 L516.26,702.47 L517.39,703.12 L518.27,703.99 L519.18,704.85 L520.16,705.61 L521.31,706.16 L522.45,706.67 L523.26,707.66 L524.29,708.36 L525.4,708.89 L526.14,710.17 L527.03,711.22 L528.2,711.71 L529.46,712 L530.86,711.83 L532.26,711.59 L533.53,711.64 L534.68,712.04 L535.78,712.66 L536.9,713.21 L538.16,713.23 L539.37,713.43 L540.35,714.8 L541.51,715.4 L542.86,714.84 L544.11,714.81 L545.33,714.99 L546.58,714.92 L547.82,714.84 L549.06,714.75 L550.28,714.79 L551.49,715.09 L552.7,715.34 L553.93,715.26 L555.17,715.09 L556.39,715.25 L557.61,715.55 L558.84,715.46 L560.06,715.21 L561.29,715.56 L562.53,715.98 L563.75,715.72 L564.97,715.21 L566.18,714.98 L567.42,715.19 L568.67,715.72 L569.91,715.82 L571.1,715.15 L572.31,714.75 L573.55,714.93 L574.76,714.75 L575.95,714.22 L577.17,714.1 L578.43,714.42 L579.66,714.37 L580.83,713.72 L582.05,713.6 L583.29,713.77 L584.5,713.53 L585.75,713.63 L586.99,713.77 L588.18,713.33 L589.37,712.95 L590.61,712.96 L591.85,713.04 L593.07,712.88 L594.29,712.8 L595.51,712.65 L596.69,712.12 L597.92,712.07 L599.19,712.49 L600.42,712.47 L601.62,712.15 L602.84,711.96 L604.06,711.89 L605.33,712.27 L606.57,712.39 L607.75,711.82 L608.95,711.38 L610.17,711.3 L611.4,711.3" fill="none" stroke="#787a12" stroke-width="2.8" stroke-linejoin="round" stroke-linecap="round"/>
<path d="M135.8,876.1 L136.97,875.82 L138.04,875.15 L139.33,875.33 L140.64,875.57 L141.83,875.32 L142.83,874.42 L143.79,873.3 L145.04,873.32 L146.33,873.52 L147.46,873.06 L148.76,873.28 L150.06,873.48 L151.17,872.97 L152.25,872.32 L153.25,871.39 L154.32,870.7 L155.55,870.63 L156.76,870.53 L157.98,870.41 L159.18,870.26 L160.32,869.85 L161.49,869.56 L162.68,869.33 L163.9,869.26 L165.16,869.31 L166.26,868.77 L167.32,868.03 L168.42,867.49 L169.63,867.35 L170.91,867.48 L172,866.88 L173.02,866.01 L174.2,865.76 L175.42,865.66 L176.65,865.61 L177.84,865.41 L178.95,864.88 L180.15,864.71 L181.31,864.35 L182.39,863.73 L183.61,863.62 L184.85,863.61 L186.02,863.34 L187.16,862.94 L188.27,862.39 L189.32,861.62 L190.53,861.52 L191.91,862.07 L193.14,862.02 L194.2,861.28 L195.34,860.89 L196.49,860.52 L197.51,859.6 L198.72,859.47 L200.08,859.96 L201.24,859.61 L202.21,858.54 L203.37,858.23 L204.75,858.77 L205.91,858.42 L206.96,857.67 L208.21,857.69 L209.34,857.24 L210.39,856.49 L211.73,856.85 L212.9,856.58 L213.92,855.7 L215.1,855.46 L216.3,855.29 L217.59,855.46 L218.91,855.77 L220.09,855.49 L221.1,854.59 L222.24,854.18 L223.45,854.07 L224.51,853.32 L225.6,852.75 L226.81,852.61 L227.97,852.3 L229.13,851.97 L230.4,852.06 L231.63,851.98 L232.83,851.82 L234.03,851.65 L235.16,851.2 L236.3,850.78 L237.42,850.33 L238.49,849.66 L239.56,849 L240.79,848.91 L242,848.79 L243.11,848.28 L244.26,847.91 L245.43,847.61 L246.49,846.93 L247.57,846.3 L248.82,846.31 L250.07,846.31 L251.21,845.92 L252.37,845.58 L253.64,845.67 L254.89,845.67 L255.98,845.09 L257.16,844.83 L258.48,845.07 L259.69,844.94 L260.84,844.57 L261.95,844.04 L262.97,843.25 L264.14,842.95 L265.35,842.81 L266.43,842.18 L267.57,841.79 L268.8,841.72 L269.95,841.36 L271.11,841.02 L272.3,840.81 L273.45,840.45 L274.66,840.29 L275.88,840.17 L277.02,839.75 L278.06,839.02 L279.01,837.97 L280.08,837.35 L281.36,837.43 L282.73,837.8 L283.9,837.53 L284.9,836.65 L286.01,836.15 L287.12,835.68 L288.25,835.24 L289.51,835.25 L290.77,835.24 L291.97,835.06 L293.09,834.57 L294.15,833.94 L295.39,833.88 L296.61,833.71 L297.68,833.12 L298.77,832.55 L299.79,831.79 L300.85,831.17 L302.03,830.91 L303.4,831.21 L304.75,831.47 L305.83,830.9 L306.95,830.42 L308.05,829.93 L309.15,829.41 L310.26,828.93 L311.35,828.39 L312.58,828.25 L313.64,827.64 L314.65,826.86 L315.93,826.89 L317.19,826.85 L318.39,826.62 L319.54,826.27 L320.56,825.53 L321.71,825.16 L322.83,824.72 L323.92,824.16 L325.05,823.75 L326,822.81 L327.11,822.32 L328.38,822.32 L329.49,821.85 L330.55,821.24 L331.67,820.78 L332.85,820.5 L334.04,820.25 L335.17,819.82 L336.28,819.37 L337.51,819.22 L338.7,818.98 L339.82,818.54 L340.98,818.19 L342.04,817.57 L342.92,816.46 L343.97,815.81 L345.29,815.94 L346.5,815.74 L347.69,815.49 L348.81,815.05 L349.77,814.16 L350.92,813.78 L352.12,813.57 L353.3,813.27 L354.55,813.2 L355.67,812.75 L356.67,811.98 L357.85,811.71 L359.11,811.64 L360.25,811.25 L361.44,811 L362.48,810.34 L363.35,809.21 L364.51,808.86 L365.86,809.04 L367.13,809.02 L368.35,808.82 L369.53,808.54 L370.6,807.96 L371.57,807.11 L372.69,806.68 L373.88,806.43 L375.02,806.02 L376.09,805.45 L377.12,804.75 L378.32,804.51 L379.37,803.88 L380.4,803.2 L381.76,803.4 L382.98,803.21 L383.95,802.38 L384.96,801.63 L386.23,801.58 L387.5,801.56 L388.28,800.19 L389.08,798.88 L390.36,798.86 L391.69,798.98 L392.92,798.83 L394.05,798.42 L395.1,797.78 L396.33,797.63 L397.55,797.46 L398.7,797.09 L399.95,797 L400.94,796.2 L401.96,795.47 L403.28,795.59 L404.4,795.14 L405.42,794.43 L406.51,793.91 L407.48,793.05 L408.7,792.86 L410.07,793.1 L411.08,792.37 L412.11,791.65 L413.43,791.77 L414.68,791.66 L415.59,790.66 L416.53,789.7 L417.78,789.63 L419.13,789.81 L420.43,789.86 L421.59,789.52 L422.5,788.5 L423.5,787.71 L424.75,787.64 L425.94,787.37 L427.02,786.81 L428.04,786.09 L429.02,785.26 L430.25,785.13 L431.49,785.02 L432.69,784.79 L433.8,784.32 L434.77,783.47 L435.95,783.16 L437.21,783.11 L438.31,782.6 L439.25,781.69 L440.2,780.8 L441.5,780.82 L442.98,781.33 L444.04,780.71 L444.88,779.55 L445.99,779.09 L447.26,779.02 L448.49,778.84 L449.74,778.72 L450.86,778.27 L451.86,777.55 L452.89,776.87 L453.85,776.03 L454.92,775.47 L456,774.94 L457.08,774.41 L458.32,774.23 L459.62,774.2 L460.58,773.41 L461.28,772 L462.4,771.57 L463.7,771.54 L464.92,771.31 L466.19,771.19 L467.32,770.76 L468.31,770.03 L469.37,769.44 L470.56,769.15 L471.52,768.36 L472.35,767.33 L473.42,766.77 L474.45,766.15 L475.57,765.71 L476.88,765.62 L478.06,765.27 L479.04,764.55 L480,763.78 L481.03,763.15 L482.14,762.68 L483.4,762.47 L484.73,762.4 L485.96,762.16 L486.85,761.25 L487.52,759.96 L488.41,759.07 L489.53,758.61 L490.92,758.65 L492.28,758.64 L493,757.44 L493.52,755.84 L494.49,755.1 L495.8,754.99 L497.14,754.94 L498.3,754.58 L499.51,754.29 L500.64,753.86 L501.4,752.68 L502.49,752.18 L503.9,752.33 L504.86,751.55 L505.54,750.15 L506.39,749.11 L507.4,748.4 L508.61,748.12 L510.03,748.35 L511.39,748.48 L512.56,748.15 L513.54,747.37 L514.51,746.52 L515.77,746.45 L517,746.31 L517.96,745.41 L519.1,745.02 L520.38,745.03 L521.52,744.65 L522.64,744.18 L523.85,744.02 L525.03,743.76 L526.07,743.06 L527.15,742.47 L528.28,742.03 L529.41,741.6 L530.61,741.38 L531.82,741.26 L533.09,741.31 L534.39,741.5 L535.51,741.06 L536.55,740.29 L537.72,739.98 L538.93,739.84 L540.09,739.51 L541.22,739.06 L542.33,738.58 L543.43,737.99 L544.61,737.74 L545.94,738.06 L547.19,738.1 L548.31,737.6 L549.41,737.05 L550.51,736.51 L551.53,735.66 L552.65,735.17 L553.97,735.43 L555.17,735.25 L556.21,734.5 L557.41,734.3 L558.62,734.16 L559.76,733.78 L561.07,733.99 L562.39,734.22 L563.51,733.76 L564.48,732.74 L565.52,732.02 L566.7,731.75 L567.88,731.51 L569.01,731.06 L570.19,730.79 L571.41,730.68 L572.48,730.05 L573.62,729.66 L574.85,729.56 L575.94,729.02 L577.09,728.66 L578.3,728.48 L579.36,727.85 L580.44,727.25 L581.66,727.13 L582.97,727.29 L584.18,727.09 L585.23,726.44 L586.36,725.99 L587.45,725.44 L588.54,724.92 L589.75,724.74 L591,724.69 L592.31,724.8 L593.45,724.41 L594.48,723.68 L595.7,723.52 L596.91,723.33 L597.91,722.53 L598.94,721.84 L600.13,721.57 L601.27,721.19 L602.37,720.67 L603.51,720.29 L604.75,720.19 L606.01,720.11 L607.09,719.54 L608.12,718.87 L609.36,718.72 L610.47,718.25 L611.4,717.3" fill="none" stroke="#dc14dc" stroke-width="2.8" stroke-linejoin="round" stroke-linecap="round"/>
<line x1="74.6" y1="986.8" x2="74.6" y2="1370" stroke="#000" stroke-width="2"/>
<line x1="74.6" y1="1369" x2="592" y2="1369" stroke="#000" stroke-width="2"/>
<line x1="67.1" y1="1368.5" x2="74.6" y2="1368.5" stroke="#000" stroke-width="2"/>
<text x="61.9" y="1373.1" font-size="15.3" text-anchor="end">0.0</text>
<line x1="67.1" y1="1299.1" x2="74.6" y2="1299.1" stroke="#000" stroke-width="2"/>
<text x="61.9" y="1303.7" font-size="15.3" text-anchor="end">0.2</text>
<line x1="67.1" y1="1229.7" x2="74.6" y2="1229.7" stroke="#000" stroke-width="2"/>
<text x="61.9" y="1234.3" font-size="15.3" text-anchor="end">0.4</text>
<line x1="67.1" y1="1160.3" x2="74.6" y2="1160.3" stroke="#000" stroke-width="2"/>
<text x="61.9" y="1164.9" font-size="15.3" text-anchor="end">0.6</text>
<line x1="67.1" y1="1090.9" x2="74.6" y2="1090.9" stroke="#000" stroke-width="2"/>
<text x="61.9" y="1095.5" font-size="15.3" text-anchor="end">0.8</text>
<line x1="67.1" y1="1021.5" x2="74.6" y2="1021.5" stroke="#000" stroke-width="2"/>
<text x="61.9" y="1026.1" font-size="15.3" text-anchor="end">1.0</text>
<line x1="70.8" y1="1333.8" x2="74.6" y2="1333.8" stroke="#000" stroke-width="2"/>
<line x1="70.8" y1="1264.4" x2="74.6" y2="1264.4" stroke="#000" stroke-width="2"/>
<line x1="70.8" y1="1195" x2="74.6" y2="1195" stroke="#000" stroke-width="2"/>
<line x1="70.8" y1="1125.6" x2="74.6" y2="1125.6" stroke="#000" stroke-width="2"/>
<line x1="70.8" y1="1056.2" x2="74.6" y2="1056.2" stroke="#000" stroke-width="2"/>
<line x1="70.8" y1="986.8" x2="74.6" y2="986.8" stroke="#000" stroke-width="2"/>
<line x1="178.5" y1="1369" x2="178.5" y2="1377" stroke="#000" stroke-width="2"/>
<text x="178.5" y="1394.2" font-size="15.5" text-anchor="middle">30</text>
<line x1="385" y1="1369" x2="385" y2="1377" stroke="#000" stroke-width="2"/>
<text x="385" y="1394.2" font-size="15.5" text-anchor="middle">40</text>
<line x1="591.5" y1="1369" x2="591.5" y2="1377" stroke="#000" stroke-width="2"/>
<text x="591.5" y="1394.2" font-size="15.5" text-anchor="middle">50</text>
<line x1="75.25" y1="1369" x2="75.25" y2="1373.5" stroke="#000" stroke-width="2"/>
<line x1="281.75" y1="1369" x2="281.75" y2="1373.5" stroke="#000" stroke-width="2"/>
<line x1="488.25" y1="1369" x2="488.25" y2="1373.5" stroke="#000" stroke-width="2"/>
<text x="250.9" y="1416.6" font-size="18.4" text-anchor="start" textLength="162.2" lengthAdjust="spacingAndGlyphs">Incident angle /deg.</text>
<text x="16.4" y="1205" font-size="18" text-anchor="middle" transform="rotate(-90 16.4 1205)" textLength="88" lengthAdjust="spacingAndGlyphs">Reflectivity</text>
<text x="148" y="1044.3" font-size="16.8" text-anchor="start" textLength="81.5" lengthAdjust="spacingAndGlyphs"><tspan style="font-family:&quot;Liberation Serif&quot;, serif">&#955;</tspan>=543 nm</text>
<line x1="124.1" y1="1073.1" x2="165" y2="1073.1" stroke="#000000" stroke-width="3"/>
<text x="171.4" y="1078.9" font-size="18.3" text-anchor="start" textLength="21.5" lengthAdjust="spacingAndGlyphs">Au</text>
<line x1="124.1" y1="1095.7" x2="165" y2="1095.7" stroke="#6c0000" stroke-width="3"/>
<text x="171.4" y="1101.5" font-size="18.3" text-anchor="start" textLength="152" lengthAdjust="spacingAndGlyphs">Au + AgMy 1 layer</text>
<line x1="124.1" y1="1118.6" x2="165" y2="1118.6" stroke="#787a12" stroke-width="3"/>
<text x="171.4" y="1124.4" font-size="18.3" text-anchor="start" textLength="161.5" lengthAdjust="spacingAndGlyphs">Au + AgMy 2 layers</text>
<line x1="124.1" y1="1141.5" x2="165" y2="1141.5" stroke="#dc14dc" stroke-width="3"/>
<text x="171.4" y="1147.3" font-size="18.3" text-anchor="start" textLength="161.5" lengthAdjust="spacingAndGlyphs">Au + AgMy 3 layers</text>
<path d="M178.2,1184 L179.1,1184.81 L179.85,1185.75 L180.44,1186.85 L181.22,1187.77 L182.24,1188.46 L183.32,1189.1 L184.29,1189.84 L185.04,1190.79 L185.63,1191.88 L186.48,1192.74 L187.34,1193.58 L188.08,1194.53 L188.96,1195.36 L189.81,1196.22 L190.39,1197.31 L190.81,1198.53 L191.58,1199.45 L192.79,1200 L193.8,1200.73 L194.38,1201.81 L194.99,1202.87 L195.7,1203.84 L196.48,1204.76 L197.26,1205.67 L197.88,1206.72 L198.58,1207.7 L199.51,1208.5 L200.43,1209.31 L201.13,1210.29 L201.82,1211.27 L202.69,1212.13 L203.46,1213.05 L204.27,1213.95 L204.98,1214.92 L205.45,1216.07 L206.09,1217.09 L206.77,1218.09 L207.54,1219.01 L208.48,1219.82 L209.11,1220.85 L209.56,1222.01 L210.3,1222.96 L211.14,1223.84 L211.72,1224.9 L212.23,1226.01 L212.77,1227.1 L213.44,1228.1 L214.11,1229.1 L214.74,1230.12 L215.72,1230.91 L216.68,1231.71 L217.44,1232.66 L218.13,1233.64 L218.86,1234.6 L219.62,1235.54 L220.07,1236.69 L220.4,1237.91 L221.04,1238.93 L221.73,1239.92 L222.38,1240.93 L223.21,1241.82 L224.13,1242.66 L224.97,1243.56 L225.57,1244.6 L225.89,1245.82 L226.19,1247.06 L226.96,1248 L227.85,1248.86 L228.33,1249.97 L228.9,1251.04 L229.65,1251.99 L230.34,1252.98 L231.03,1253.96 L231.86,1254.86 L232.59,1255.83 L232.88,1257.06 L233.07,1258.36 L233.7,1259.38 L234.69,1260.19 L235.52,1261.09 L235.98,1262.22 L236.39,1263.38 L237.1,1264.36 L237.86,1265.3 L238.45,1266.36 L239.01,1267.42 L239.64,1268.45 L240.47,1269.35 L241.24,1270.3 L241.59,1271.49 L242.1,1272.58 L242.91,1273.5 L243.42,1274.6 L243.87,1275.73 L244.66,1276.66 L245.18,1277.75 L245.42,1279.01 L245.98,1280.07 L246.87,1280.95 L247.6,1281.92 L248.22,1282.95 L249.11,1283.82 L249.7,1284.87 L249.9,1286.15 L250.49,1287.19 L251.46,1288.02 L252.16,1289 L252.78,1290.03 L253.48,1291.02 L253.8,1292.23 L254.28,1293.34 L255,1294.31 L255.5,1295.42 L256.01,1296.51 L256.68,1297.52 L257.2,1298.6 L257.8,1299.65 L258.64,1300.55 L259.39,1301.5 L259.93,1302.58 L260.46,1303.67 L261.12,1304.68 L261.74,1305.71 L262.35,1306.74 L262.86,1307.84 L263.34,1308.95 L264.01,1309.96 L264.58,1311.02 L265.13,1312.1 L265.87,1313.06 L266.63,1314 L267.22,1315.05 L267.92,1316.04 L268.76,1316.93 L269.4,1317.95 L270.04,1318.97 L270.59,1320.05 L271.18,1321.1 L272.19,1321.87 L273.23,1322.62 L273.89,1323.62 L274.36,1324.76 L274.9,1325.84 L275.44,1326.93 L275.87,1328.11 L276.45,1329.18 L277.31,1330.04 L278.24,1330.85 L279.06,1331.74 L279.6,1332.85 L280.09,1333.99 L281.06,1334.76 L282.15,1335.42 L282.65,1336.57 L283.13,1337.75 L284.18,1338.43 L285.33,1339.03 L286.05,1339.99 L286.64,1341.09 L287.53,1341.91 L288.59,1342.55 L289.41,1343.42 L290.18,1344.36 L291.08,1345.16 L291.85,1346.11 L292.78,1346.88 L293.91,1347.39 L295.03,1347.87 L295.97,1348.62 L296.92,1349.35 L297.97,1349.95 L298.99,1350.6 L300.24,1350.71 L301.43,1350.85 L302.5,1351.48 L303.65,1351.94 L304.86,1352.02 L306.07,1351.84 L307.26,1351.7 L308.44,1351.52 L309.56,1351.01 L310.67,1350.65 L311.95,1350.75 L313.16,1350.55 L314.2,1349.91 L315.24,1349.3 L316.33,1348.8 L317.38,1348.21 L318.43,1347.62 L319.39,1346.88 L320.16,1345.92 L321.07,1345.13 L321.97,1344.35 L322.98,1343.68 L323.98,1342.97 L324.6,1341.9 L325.3,1340.92 L326.2,1340.11 L327,1339.21 L327.46,1338.05 L328.05,1337 L329,1336.2 L329.71,1335.23 L330.41,1334.25 L331.14,1333.28 L331.56,1332.13 L332.12,1331.07 L332.89,1330.12 L333.48,1329.08 L334.05,1328.01 L334.94,1327.12 L335.63,1326.12 L335.99,1324.95 L336.32,1323.77 L336.63,1322.58 L337.28,1321.56 L337.85,1320.49 L338.24,1319.35 L338.67,1318.22 L339.01,1317.05 L339.44,1315.93 L340.24,1314.97 L341.16,1314.07 L341.66,1312.98 L341.83,1311.73 L342.14,1310.54 L342.55,1309.41 L343.25,1308.41 L344.21,1307.53 L344.75,1306.46 L344.99,1305.24 L345.28,1304.04 L345.88,1302.99 L346.77,1302.09 L347.25,1300.98 L347.57,1299.8 L348.11,1298.72 L348.59,1297.62 L349.1,1296.53 L349.54,1295.41 L350.12,1294.35 L350.89,1293.39 L351.56,1292.38 L352.02,1291.26 L352.48,1290.15 L353.3,1289.21 L353.89,1288.16 L354.18,1286.96 L354.55,1285.8 L354.95,1284.66 L355.37,1283.52 L355.87,1282.43 L356.58,1281.44 L357.39,1280.49 L358.12,1279.51 L358.68,1278.44 L359.02,1277.27 L359.31,1276.07 L359.73,1274.94 L360.3,1273.88 L360.71,1272.74 L361.12,1271.6 L361.73,1270.56 L362.15,1269.43 L362.69,1268.36 L363.36,1267.34 L364.03,1266.33 L364.75,1265.33 L365.28,1264.25 L365.9,1263.21 L366.31,1262.07 L366.51,1260.84 L367.1,1259.79 L367.69,1258.73 L367.98,1257.54 L368.31,1256.38 L368.76,1255.26 L369.25,1254.16 L369.75,1253.07 L370.36,1252.02 L371.11,1251.03 L371.62,1249.93 L371.87,1248.74 L372.29,1247.61 L372.77,1246.5 L372.99,1245.29 L373.39,1244.16 L374.01,1243.11 L374.46,1241.99 L374.9,1240.87 L375.44,1239.79 L375.99,1238.72 L376.33,1237.56 L376.95,1236.51 L377.48,1235.43 L377.75,1234.24 L378.21,1233.13 L378.35,1231.88 L378.63,1230.7 L379.5,1229.75 L380.11,1228.7 L380.14,1227.41 L380.28,1226.17 L380.98,1225.16 L381.64,1224.13 L382.07,1223 L382.39,1221.83 L382.67,1220.65 L383.48,1219.68 L384.54,1218.82 L385,1217.71 L385.01,1216.41 L385.33,1215.23 L386.06,1214.24 L386.75,1213.23 L387.03,1212.04 L387.23,1210.81 L387.78,1209.74 L388.53,1208.75 L389.26,1207.76 L389.76,1206.67 L390.16,1205.53 L390.56,1204.39 L391,1203.27 L391.53,1202.19 L391.92,1201.04 L392.45,1199.96 L392.96,1198.88 L393.18,1197.65 L393.45,1196.44 L393.98,1195.36 L394.76,1194.4 L395.41,1193.38 L395.96,1192.3 L396.37,1191.17 L396.68,1189.97 L397.4,1188.99 L398.15,1188.02 L398.75,1186.98 L399.58,1186.06 L400.22,1185.04 L400.41,1183.77 L400.7,1182.56 L401.37,1181.55 L402.18,1180.62 L402.79,1179.59 L403.34,1178.51 L403.96,1177.49 L404.54,1176.43 L405.27,1175.46 L405.99,1174.49 L406.74,1173.54 L407.46,1172.57 L407.8,1171.37 L408.28,1170.25 L409.09,1169.34 L409.66,1168.28 L410.08,1167.12 L410.73,1166.11 L411.47,1165.15 L412.36,1164.3 L413.17,1163.39 L413.65,1162.26 L414.19,1161.18 L414.62,1160.01 L415.09,1158.88 L416.15,1158.14 L417.1,1157.34 L417.65,1156.26 L418.18,1155.15 L418.81,1154.13 L419.71,1153.29 L420.6,1152.45 L421.32,1151.49 L421.82,1150.37 L422.16,1149.11 L422.97,1148.22 L423.98,1147.47 L424.58,1146.41 L425.07,1145.28 L426,1144.47 L426.94,1143.68 L427.42,1142.53 L427.98,1141.44 L428.78,1140.53 L429.72,1139.74 L430.72,1138.99 L431.33,1137.95 L431.93,1136.88 L432.89,1136.11 L433.59,1135.13 L434.37,1134.21 L435.37,1133.48 L435.93,1132.38 L436.4,1131.2 L437.16,1130.27 L437.95,1129.36 L438.72,1128.44 L439.7,1127.68 L440.69,1126.95 L441.34,1125.92 L442.14,1125.02 L443.16,1124.31 L443.75,1123.24 L444.4,1122.2 L445.33,1121.42 L446.14,1120.53 L446.88,1119.58 L447.85,1118.83 L448.82,1118.08 L449.32,1116.92 L449.88,1115.8 L450.72,1114.94 L451.49,1114.01 L452.31,1113.14 L453.26,1112.37 L454.09,1111.49 L454.9,1110.6 L455.75,1109.76 L456.39,1108.71 L457.11,1107.74 L458.09,1107.01 L459.01,1106.21 L459.83,1105.33 L460.57,1104.38 L461.41,1103.52 L462.04,1102.46 L462.44,1101.19 L463.24,1100.29 L464.42,1099.75 L465.42,1099.03 L466.13,1098.05 L467.16,1097.36 L468.19,1096.67 L468.94,1095.73 L469.65,1094.75 L470.33,1093.74 L471.16,1092.86 L472.08,1092.07 L472.97,1091.27 L473.79,1090.38 L474.44,1089.35 L475.3,1088.5 L475.3,1088.5 L475.79,1089.62 L476.41,1090.69 L476.84,1091.81 L477.04,1093.02 L477.38,1094.18 L478.02,1095.22 L478.7,1096.24 L478.96,1097.44 L479.14,1098.69 L479.74,1099.74 L480.56,1100.67 L481.03,1101.8 L481.35,1103.01 L481.85,1104.13 L482.4,1105.23 L483.23,1106.14 L484.17,1106.96 L484.87,1107.94 L485.68,1108.85 L486.42,1109.81 L487.05,1110.87 L488.04,1111.61 L489.04,1112.32 L489.87,1113.2 L490.64,1114.14 L491.35,1115.16 L492.14,1116.1 L493.05,1116.91 L494.13,1117.52 L495.18,1118.14 L496.12,1118.91 L497.2,1119.49 L498.26,1120.07 L499.22,1120.82 L500.14,1121.64 L501.14,1122.32 L502.27,1122.8 L503.34,1123.36 L504.46,1123.83 L505.66,1124.14 L506.75,1124.66 L507.73,1125.42 L508.74,1126.12 L509.83,1126.67 L510.95,1127.12 L512.12,1127.46 L513.27,1127.84 L514.41,1128.25 L515.64,1128.43 L516.81,1128.72 L517.94,1129.16 L519.1,1129.5 L520.24,1129.91 L521.38,1130.31 L522.52,1130.72 L523.67,1131.08 L524.86,1131.33 L526.07,1131.5 L527.25,1131.75 L528.39,1132.17 L529.55,1132.55 L530.77,1132.64 L532.02,1132.56 L533.16,1133 L534.32,1133.38 L535.55,1133.37 L536.7,1133.79 L537.84,1134.3 L539.06,1134.39 L540.28,1134.43 L541.44,1134.8 L542.63,1135.03 L543.84,1135.14 L545.02,1135.46 L546.22,1135.64 L547.44,1135.68 L548.64,1135.84 L549.83,1136.1 L551.02,1136.36 L552.21,1136.59 L553.43,1136.58 L554.67,1136.45 L555.86,1136.66 L557.05,1136.93 L558.27,1136.97 L559.47,1137.12 L560.68,1137.26 L561.91,1137.01 L563.14,1136.84 L564.33,1137.24 L565.51,1137.61 L566.73,1137.6 L567.94,1137.7 L569.13,1137.97 L570.35,1137.94 L571.58,1137.77 L572.78,1137.9 L573.99,1138.05 L575.21,1137.96 L576.4,1138.23 L577.57,1138.89 L578.77,1139.12 L579.98,1139.11 L581.19,1139.16 L582.43,1138.88 L583.66,1138.71 L584.84,1139.18 L586.03,1139.51 L587.27,1139.2 L588.5,1139.04 L589.67,1139.58 L590.86,1139.86 L592.1,1139.6" fill="none" stroke="#000000" stroke-width="2.8" stroke-linejoin="round" stroke-linecap="round"/>
<path d="M178.2,1306.7 L179.4,1306.87 L180.61,1306.9 L181.82,1306.95 L183.03,1306.92 L184.24,1306.87 L185.44,1306.65 L186.64,1306.32 L187.86,1306.6 L189.09,1307.1 L190.3,1306.98 L191.5,1306.81 L192.72,1306.85 L193.92,1306.74 L195.11,1306.37 L196.29,1306 L197.47,1305.71 L198.65,1305.44 L199.88,1305.54 L201.09,1305.47 L202.25,1305.07 L203.47,1305.11 L204.73,1305.31 L205.91,1305.07 L207.05,1304.53 L208.19,1304.06 L209.36,1303.73 L210.57,1303.69 L211.86,1303.96 L213.07,1303.85 L214.21,1303.38 L215.4,1303.2 L216.58,1302.91 L217.75,1302.63 L218.92,1302.32 L220,1301.64 L221.18,1301.38 L222.46,1301.52 L223.72,1301.54 L224.93,1301.37 L226.06,1300.9 L227.14,1300.29 L228.3,1299.94 L229.48,1299.65 L230.59,1299.16 L231.69,1298.63 L232.8,1298.13 L233.89,1297.58 L235.07,1297.3 L236.3,1297.18 L237.34,1296.49 L238.37,1295.78 L239.59,1295.6 L240.78,1295.34 L241.96,1295.06 L243.14,1294.76 L244.19,1294.1 L245.21,1293.41 L246.31,1292.92 L247.44,1292.5 L248.57,1292.08 L249.82,1291.92 L251.07,1291.75 L252.03,1290.94 L253.04,1290.23 L254.27,1290.01 L255.39,1289.55 L256.43,1288.93 L257.52,1288.4 L258.61,1287.87 L259.72,1287.39 L260.84,1286.93 L261.94,1286.42 L262.95,1285.74 L263.91,1284.96 L264.91,1284.27 L266.02,1283.78 L267.19,1283.42 L268.27,1282.87 L269.26,1282.16 L270.45,1281.82 L271.68,1281.54 L272.6,1280.71 L273.42,1279.71 L274.5,1279.15 L275.63,1278.7 L276.67,1278.09 L277.76,1277.57 L278.86,1277.05 L279.8,1276.26 L280.75,1275.49 L281.85,1274.99 L282.91,1274.4 L283.89,1273.69 L284.83,1272.91 L285.76,1272.11 L286.8,1271.51 L287.89,1270.97 L288.81,1270.16 L289.82,1269.51 L291.03,1269.17 L292.04,1268.5 L293.05,1267.83 L294.07,1267.19 L295.04,1266.46 L296.18,1266 L297.24,1265.42 L298.23,1264.73 L299.24,1264.07 L300.26,1263.42 L301.28,1262.78 L302.17,1261.94 L303,1261 L304.02,1260.36 L305.27,1260.05 L306.4,1259.56 L307.33,1258.78 L308.32,1258.09 L309.35,1257.46 L310.39,1256.84 L311.33,1256.07 L312.18,1255.18 L313.21,1254.54 L314.24,1253.92 L315.17,1253.13 L316.11,1252.36 L317.06,1251.62 L318.03,1250.9 L319.19,1250.46 L320.52,1250.25 L321.53,1249.58 L322.34,1248.63 L323.22,1247.79 L323.97,1246.75 L324.73,1245.73 L325.83,1245.19 L327.15,1244.97 L328.3,1244.51 L329.15,1243.62 L330,1242.72 L330.97,1242.02 L331.9,1241.23 L332.87,1240.51 L333.95,1239.95 L334.96,1239.29 L335.9,1238.51 L336.85,1237.78 L337.89,1237.16 L339.07,1236.73 L340.16,1236.18 L341.17,1235.52 L342.13,1234.78 L342.94,1233.83 L343.85,1233.02 L344.84,1232.33 L345.87,1231.7 L346.97,1231.16 L348.05,1230.61 L349.04,1229.91 L349.84,1228.95 L350.73,1228.11 L351.82,1227.57 L352.87,1226.96 L353.86,1226.27 L355.01,1225.81 L356.01,1225.13 L356.81,1224.17 L357.86,1223.57 L358.87,1222.89 L359.7,1221.97 L360.74,1221.35 L361.74,1220.67 L362.73,1219.98 L363.89,1219.55 L364.88,1218.85 L365.8,1218.05 L366.87,1217.47 L367.94,1216.91 L368.95,1216.25 L369.93,1215.54 L370.82,1214.7 L371.69,1213.82 L372.71,1213.18 L373.66,1212.43 L374.65,1211.73 L375.88,1211.4 L376.84,1210.66 L377.61,1209.63 L378.61,1208.95 L379.77,1208.53 L380.83,1207.94 L381.78,1207.18 L382.75,1206.45 L383.72,1205.74 L384.76,1205.11 L385.81,1204.52 L386.87,1203.93 L387.95,1203.37 L388.96,1202.71 L389.97,1202.06 L391.07,1201.53 L392.15,1200.99 L393.13,1200.27 L394.05,1199.48 L394.98,1198.69 L395.94,1197.94 L397.03,1197.4 L398.15,1196.92 L399.15,1196.23 L400.04,1195.39 L400.93,1194.53 L401.98,1193.93 L403.22,1193.63 L404.37,1193.2 L405.29,1192.38 L406.17,1191.51 L407.25,1190.96 L408.33,1190.41 L409.33,1189.73 L410.4,1189.18 L411.42,1188.52 L412.35,1187.72 L413.41,1187.15 L414.61,1186.79 L415.64,1186.17 L416.54,1185.31 L417.6,1184.73 L418.8,1184.39 L419.86,1183.82 L420.9,1183.2 L421.99,1182.68 L422.92,1181.86 L423.91,1181.16 L425.06,1180.75 L426.12,1180.16 L427.14,1179.53 L428.15,1178.84 L429.08,1178.05 L430.12,1177.42 L431.33,1177.11 L432.47,1176.67 L433.49,1176.02 L434.6,1175.54 L435.6,1174.85 L436.55,1174.08 L437.69,1173.64 L438.77,1173.1 L439.66,1172.21 L440.66,1171.52 L441.82,1171.13 L442.94,1170.64 L443.97,1170.01 L444.97,1169.32 L446.06,1168.79 L447.11,1168.2 L448.14,1167.57 L449.3,1167.18 L450.42,1166.71 L451.41,1166 L452.45,1165.38 L453.52,1164.83 L454.57,1164.23 L455.75,1163.87 L456.96,1163.57 L458.09,1163.13 L459.11,1162.47 L460.09,1161.74 L461.11,1161.09 L462.08,1160.35 L463.14,1159.76 L464.34,1159.45 L465.41,1158.88 L466.31,1158.02 L467.37,1157.44 L468.59,1157.14 L469.6,1156.47 L470.54,1155.68 L471.74,1155.35 L472.9,1154.95 L473.85,1154.18 L474.8,1153.4 L474.8,1153.4 L475.62,1154.3 L475.97,1155.59 L476.57,1156.71 L477.74,1157.3 L478.78,1157.98 L479.63,1158.86 L480.53,1159.67 L481.38,1160.55 L482.36,1161.28 L483.55,1161.73 L484.58,1162.37 L485.38,1163.32 L486.25,1164.21 L487.23,1164.93 L488.34,1165.46 L489.52,1165.84 L490.58,1166.43 L491.63,1167.03 L492.69,1167.63 L493.79,1168.14 L494.97,1168.47 L496.11,1168.88 L497.22,1169.37 L498.32,1169.88 L499.47,1170.25 L500.6,1170.68 L501.72,1171.15 L502.86,1171.6 L503.99,1172.04 L505.17,1172.34 L506.33,1172.72 L507.53,1172.91 L508.77,1172.95 L509.96,1173.19 L511.14,1173.45 L512.32,1173.74 L513.45,1174.25 L514.61,1174.69 L515.82,1174.85 L517.01,1175.11 L518.24,1175.08 L519.53,1174.65 L520.74,1174.73 L521.91,1175.13 L523.1,1175.31 L524.27,1175.77 L525.45,1176.18 L526.68,1176.13 L527.91,1176.03 L529.12,1176.12 L530.32,1176.25 L531.54,1176.25 L532.76,1176.24 L533.96,1176.49 L535.16,1176.71 L536.38,1176.66 L537.6,1176.58 L538.82,1176.46 L540.04,1176.37 L541.25,1176.45 L542.45,1176.76 L543.65,1177.08 L544.87,1177.04 L546.09,1176.98 L547.3,1177.06 L548.51,1177.07 L549.72,1177.14 L550.94,1177.25 L552.15,1177 L553.38,1176.53 L554.59,1176.7 L555.79,1177.2 L557,1177.5 L558.21,1177.67 L559.43,1177.38 L560.65,1177.29 L561.85,1177.62 L563.06,1177.81 L564.27,1177.87 L565.49,1177.68 L566.71,1177.51 L567.93,1177.51 L569.15,1177.36 L570.36,1177.3 L571.57,1177.4 L572.78,1177.62 L573.99,1177.79 L575.2,1177.78 L576.42,1177.8 L577.63,1177.94 L578.85,1177.84 L580.09,1177.57 L581.28,1177.87 L582.48,1178.19 L583.69,1178.3 L584.87,1178.65 L586.06,1178.95 L587.24,1179.21 L588.44,1179.37 L589.67,1179.35 L590.91,1179.23 L592.1,1179.5" fill="none" stroke="#6c0000" stroke-width="2.8" stroke-linejoin="round" stroke-linecap="round"/>
<path d="M178.2,1298.5 L179.39,1298.3 L180.6,1298.23 L181.83,1298.41 L183.04,1298.46 L184.21,1298.04 L185.41,1297.84 L186.6,1297.69 L187.8,1297.57 L189.02,1297.61 L190.2,1297.29 L191.38,1296.99 L192.59,1297.01 L193.78,1296.73 L194.95,1296.39 L196.16,1296.4 L197.36,1296.27 L198.57,1296.2 L199.8,1296.33 L201,1296.22 L202.21,1296.19 L203.44,1296.31 L204.61,1295.96 L205.77,1295.51 L206.97,1295.4 L208.15,1295.05 L209.29,1294.5 L210.48,1294.29 L211.73,1294.6 L212.99,1294.94 L214.17,1294.67 L215.33,1294.24 L216.54,1294.17 L217.76,1294.21 L218.98,1294.18 L220.19,1294.17 L221.4,1294.08 L222.58,1293.82 L223.74,1293.44 L224.92,1293.11 L226.1,1292.86 L227.27,1292.5 L228.43,1292.16 L229.63,1292.03 L230.84,1291.93 L232.06,1291.97 L233.3,1292.11 L234.51,1292.03 L235.71,1291.92 L236.91,1291.77 L238.1,1291.58 L239.27,1291.26 L240.44,1290.9 L241.63,1290.73 L242.81,1290.44 L244,1290.28 L245.26,1290.52 L246.46,1290.39 L247.61,1289.94 L248.82,1289.89 L250,1289.62 L251.14,1289.11 L252.34,1288.99 L253.55,1288.93 L254.74,1288.68 L255.89,1288.24 L257.05,1287.91 L258.29,1287.98 L259.53,1288.07 L260.72,1287.93 L261.92,1287.75 L263.08,1287.41 L264.22,1286.93 L265.42,1286.74 L266.65,1286.78 L267.85,1286.67 L269.03,1286.39 L270.21,1286.14 L271.42,1286.09 L272.6,1285.81 L273.71,1285.15 L274.94,1285.2 L276.21,1285.49 L277.33,1284.87 L278.44,1284.21 L279.63,1284.03 L280.81,1283.77 L282.01,1283.64 L283.27,1283.84 L284.51,1283.89 L285.68,1283.59 L286.86,1283.33 L288.04,1283.12 L289.19,1282.66 L290.33,1282.22 L291.53,1282.1 L292.74,1281.98 L293.9,1281.64 L295.07,1281.31 L296.23,1280.99 L297.39,1280.62 L298.59,1280.47 L299.81,1280.45 L301.01,1280.31 L302.23,1280.27 L303.46,1280.25 L304.62,1279.91 L305.75,1279.39 L306.88,1278.9 L308.08,1278.72 L309.29,1278.67 L310.48,1278.47 L311.66,1278.22 L312.84,1277.94 L314.03,1277.78 L315.25,1277.74 L316.45,1277.56 L317.6,1277.16 L318.77,1276.85 L319.97,1276.72 L321.19,1276.68 L322.4,1276.55 L323.53,1276.06 L324.66,1275.6 L325.87,1275.46 L327.08,1275.38 L328.28,1275.22 L329.43,1274.84 L330.62,1274.62 L331.9,1274.88 L333.1,1274.72 L334.17,1273.91 L335.29,1273.39 L336.51,1273.33 L337.67,1273.01 L338.8,1272.49 L339.99,1272.28 L341.19,1272.16 L342.44,1272.25 L343.7,1272.36 L344.83,1271.88 L345.96,1271.38 L347.2,1271.42 L348.39,1271.24 L349.53,1270.78 L350.74,1270.69 L351.94,1270.55 L353.07,1270.06 L354.22,1269.64 L355.42,1269.49 L356.59,1269.2 L357.74,1268.82 L358.95,1268.72 L360.15,1268.55 L361.3,1268.19 L362.43,1267.69 L363.59,1267.35 L364.83,1267.39 L366.03,1267.22 L367.18,1266.84 L368.38,1266.67 L369.59,1266.59 L370.8,1266.44 L371.97,1266.15 L373.13,1265.84 L374.34,1265.74 L375.55,1265.6 L376.69,1265.15 L377.88,1264.96 L379.11,1264.96 L380.26,1264.59 L381.4,1264.13 L382.55,1263.75 L383.69,1263.3 L384.84,1262.89 L386.05,1262.79 L387.23,1262.55 L388.36,1262.06 L389.58,1262 L390.85,1262.21 L392.02,1261.88 L393.17,1261.5 L394.4,1261.48 L395.55,1261.09 L396.7,1260.72 L397.89,1260.49 L399.01,1259.98 L400.16,1259.58 L401.41,1259.66 L402.68,1259.86 L403.84,1259.51 L404.97,1259.01 L406.19,1258.95 L407.39,1258.8 L408.55,1258.48 L409.73,1258.23 L410.89,1257.87 L412.02,1257.38 L413.18,1257.04 L414.38,1256.88 L415.6,1256.82 L416.79,1256.62 L417.97,1256.39 L419.19,1256.3 L420.33,1255.9 L421.5,1255.57 L422.73,1255.57 L423.91,1255.32 L425.04,1254.82 L426.17,1254.36 L427.33,1254 L428.54,1253.92 L429.83,1254.17 L431.08,1254.27 L432.26,1254.04 L433.4,1253.59 L434.56,1253.22 L435.75,1253.07 L436.93,1252.79 L438.08,1252.39 L439.3,1252.34 L440.49,1252.14 L441.56,1251.33 L442.68,1250.81 L443.92,1250.87 L445.19,1251.07 L446.4,1250.94 L447.55,1250.54 L448.72,1250.28 L449.91,1250.04 L451.07,1249.72 L452.24,1249.4 L453.43,1249.19 L454.64,1249.13 L455.89,1249.25 L457.06,1248.94 L458.15,1248.24 L459.34,1248.03 L460.57,1248.02 L461.78,1247.95 L462.98,1247.81 L464.16,1247.54 L465.3,1247.11 L466.41,1246.46 L467.59,1246.24 L468.89,1246.58 L470.08,1246.38 L471.21,1245.9 L472.43,1245.85 L473.57,1245.42 L474.69,1244.84 L475.91,1244.79 L477.13,1244.75 L478.33,1244.59 L479.5,1244.3 L479.5,1244.3 L480.79,1244.28 L481.85,1244.96 L482.94,1245.53 L484.21,1245.54 L485.38,1245.87 L486.37,1246.85 L487.5,1247.4 L488.78,1247.3 L490.07,1247.15 L491.32,1247.12 L492.49,1247.44 L493.58,1248.18 L494.75,1248.56 L496,1248.48 L497.21,1248.65 L498.4,1248.91 L499.59,1249.16 L500.75,1249.67 L501.94,1249.98 L503.18,1249.9 L504.38,1250.1 L505.58,1250.31 L506.82,1250.2 L508.06,1250.09 L509.27,1250.23 L510.46,1250.56 L511.68,1250.57 L512.9,1250.55 L514.11,1250.68 L515.34,1250.62 L516.55,1250.64 L517.75,1251.03 L518.95,1251.37 L520.17,1251.33 L521.4,1251.15 L522.63,1250.8 L523.84,1250.92 L525.05,1251.46 L526.27,1251.29 L527.49,1250.99 L528.7,1251.26 L529.92,1251.33 L531.14,1251.01 L532.35,1251.06 L533.57,1251.27 L534.79,1251.31 L536.01,1251.56 L537.23,1251.71 L538.44,1251.51 L539.66,1251.29 L540.87,1251.2 L542.09,1251.14 L543.31,1251.21 L544.53,1251.26 L545.75,1251.29 L546.97,1251.63 L548.2,1251.74 L549.4,1251.31 L550.62,1251.18 L551.84,1251.32 L553.05,1251.2 L554.26,1250.94 L555.48,1250.91 L556.71,1251.12 L557.93,1251.15 L559.14,1250.91 L560.35,1250.73 L561.57,1250.88 L562.79,1250.93 L564.01,1250.8 L565.23,1251 L566.44,1250.95 L567.65,1250.49 L568.87,1250.38 L570.08,1250.22 L571.3,1250.09 L572.52,1250.37 L573.74,1250.59 L574.96,1250.43 L576.17,1250.08 L577.39,1249.99 L578.61,1250.2 L579.83,1250.33 L581.05,1250.15 L582.27,1250.28 L583.48,1250.64 L584.7,1250.53 L585.92,1250.39 L587.14,1250.41 L588.36,1250.47 L589.57,1250.6 L590.78,1250.75 L592,1250.8" fill="none" stroke="#787a12" stroke-width="2.8" stroke-linejoin="round" stroke-linecap="round"/>
<path d="M178.2,1351.1 L179.4,1350.87 L180.61,1351.25 L181.82,1351.24 L183.03,1351.21 L184.23,1351.28 L185.43,1351.12 L186.63,1350.79 L187.83,1350.42 L189.03,1350.47 L190.25,1350.87 L191.46,1351.01 L192.66,1350.72 L193.85,1350.23 L195.05,1350 L196.26,1350.11 L197.47,1350.27 L198.67,1350.36 L199.88,1350.47 L201.09,1350.6 L202.29,1350.4 L203.5,1350.31 L204.71,1350.49 L205.91,1350.37 L207.11,1350.22 L208.32,1350.48 L209.53,1350.51 L210.72,1350.09 L211.92,1349.87 L213.12,1349.69 L214.33,1349.65 L215.54,1350.01 L216.76,1350.24 L217.96,1350.21 L219.16,1349.87 L220.35,1349.51 L221.56,1349.55 L222.76,1349.53 L223.96,1349.34 L225.17,1349.44 L226.38,1349.65 L227.59,1349.79 L228.8,1349.93 L230,1349.6 L231.19,1349.24 L232.41,1349.52 L233.62,1349.69 L234.81,1349.34 L236.02,1349.23 L237.22,1349.34 L238.42,1349.11 L239.62,1348.85 L240.82,1348.64 L242.02,1348.51 L243.23,1348.69 L244.45,1349.12 L245.66,1349.2 L246.85,1348.79 L248.05,1348.54 L249.26,1348.68 L250.47,1348.66 L251.66,1348.34 L252.86,1348.28 L254.08,1348.53 L255.29,1348.67 L256.49,1348.61 L257.69,1348.42 L258.88,1347.98 L260.08,1347.81 L261.29,1348.04 L262.5,1348.1 L263.71,1348.06 L264.92,1348.11 L266.12,1348.08 L267.33,1348.08 L268.54,1348.19 L269.74,1348.13 L270.94,1348.05 L272.15,1348.1 L273.36,1348.07 L274.55,1347.74 L275.74,1347.34 L276.95,1347.52 L278.18,1347.9 L279.38,1347.83 L280.58,1347.66 L281.78,1347.49 L282.97,1347.22 L284.17,1347.06 L285.38,1347.17 L286.6,1347.38 L287.81,1347.47 L289.02,1347.49 L290.22,1347.46 L291.42,1347.41 L292.61,1347.06 L293.81,1346.84 L295.03,1347.04 L296.24,1347.08 L297.44,1346.96 L298.63,1346.75 L299.83,1346.55 L301.03,1346.41 L302.22,1346.15 L303.42,1345.99 L304.63,1346.02 L305.83,1345.97 L307.04,1345.91 L308.25,1346.04 L309.47,1346.33 L310.69,1346.61 L311.89,1346.5 L313.08,1346.16 L314.28,1346 L315.48,1345.88 L316.68,1345.79 L317.88,1345.66 L319.08,1345.52 L320.28,1345.38 L321.48,1345.27 L322.7,1345.35 L323.9,1345.25 L325.09,1345.04 L326.3,1345.13 L327.51,1345.18 L328.72,1345.08 L329.92,1345.13 L331.14,1345.28 L332.34,1345.16 L333.53,1344.79 L334.73,1344.72 L335.95,1344.95 L337.16,1345.01 L338.36,1344.86 L339.55,1344.56 L340.74,1344.21 L341.95,1344.31 L343.17,1344.56 L344.38,1344.57 L345.58,1344.51 L346.77,1344.18 L347.96,1343.8 L349.16,1343.74 L350.38,1343.93 L351.6,1344.16 L352.81,1344.21 L354,1343.93 L355.18,1343.5 L356.38,1343.31 L357.59,1343.47 L358.81,1343.7 L360.02,1343.73 L361.23,1343.7 L362.42,1343.52 L363.62,1343.31 L364.82,1343.24 L366.02,1343.01 L367.22,1342.9 L368.44,1343.13 L369.63,1342.96 L370.82,1342.64 L372.03,1342.69 L373.25,1342.8 L374.46,1342.89 L375.65,1342.55 L376.82,1342.03 L378.05,1342.29 L379.27,1342.51 L380.44,1341.98 L381.63,1341.71 L382.85,1341.95 L384.07,1342.09 L385.27,1341.89 L386.46,1341.61 L387.66,1341.58 L388.88,1341.74 L390.1,1341.96 L391.31,1342.03 L392.5,1341.65 L393.67,1341.07 L394.86,1340.91 L396.09,1341.2 L397.3,1341.22 L398.49,1340.95 L399.69,1340.88 L400.89,1340.8 L402.09,1340.6 L403.3,1340.64 L404.51,1340.76 L405.73,1340.81 L406.93,1340.81 L408.13,1340.58 L409.33,1340.48 L410.53,1340.34 L411.71,1340 L412.92,1339.97 L414.14,1340.16 L415.34,1340.11 L416.54,1339.94 L417.75,1339.96 L418.94,1339.78 L420.12,1339.31 L421.31,1339.06 L422.52,1339.14 L423.75,1339.37 L424.96,1339.49 L426.17,1339.53 L427.37,1339.38 L428.57,1339.21 L429.78,1339.28 L430.99,1339.27 L432.18,1339.1 L433.37,1338.83 L434.56,1338.57 L435.77,1338.5 L436.96,1338.3 L438.16,1338.14 L439.37,1338.25 L440.59,1338.32 L441.79,1338.22 L442.98,1338 L444.18,1337.88 L445.39,1337.87 L446.58,1337.66 L447.78,1337.51 L449,1337.77 L450.22,1337.91 L451.4,1337.55 L452.6,1337.4 L453.83,1337.74 L455.04,1337.76 L456.22,1337.34 L457.41,1337.12 L458.64,1337.38 L459.86,1337.58 L461.05,1337.31 L462.24,1337.07 L463.43,1336.75 L464.6,1336.26 L465.8,1336.08 L467.01,1336.2 L468.24,1336.38 L469.46,1336.55 L470.66,1336.55 L471.85,1336.29 L473.05,1336.1 L474.25,1336.03 L475.47,1336.14 L476.69,1336.28 L477.88,1336.12 L479.09,1336.05 L480.28,1335.87 L481.47,1335.53 L482.66,1335.41 L483.86,1335.29 L485.07,1335.19 L486.27,1335.15 L487.47,1334.99 L488.68,1334.99 L489.89,1335.07 L491.09,1334.92 L492.3,1334.93 L493.51,1335.02 L494.71,1334.86 L495.91,1334.78 L497.12,1334.77 L498.32,1334.72 L499.51,1334.42 L500.7,1334.12 L501.91,1334.19 L503.1,1333.89 L504.27,1333.39 L505.47,1333.27 L506.67,1333.27 L507.88,1333.23 L509.07,1333.04 L510.28,1333.03 L511.5,1333.21 L512.71,1333.13 L513.9,1332.9 L515.1,1332.84 L516.31,1332.84 L517.51,1332.79 L518.71,1332.68 L519.92,1332.64 L521.12,1332.5 L522.3,1332.15 L523.5,1332.09 L524.72,1332.17 L525.92,1332.03 L527.11,1331.87 L528.32,1331.84 L529.54,1331.98 L530.75,1332.01 L531.94,1331.73 L533.13,1331.55 L534.34,1331.51 L535.52,1331.21 L536.71,1330.95 L537.93,1331.05 L539.14,1331.02 L540.34,1330.94 L541.55,1331 L542.75,1330.85 L543.92,1330.44 L545.1,1330.03 L546.31,1330.03 L547.54,1330.29 L548.76,1330.39 L549.96,1330.37 L551.16,1330.22 L552.34,1329.9 L553.53,1329.6 L554.73,1329.56 L555.94,1329.56 L557.15,1329.55 L558.36,1329.52 L559.54,1329.17 L560.73,1328.94 L561.94,1328.95 L563.16,1329.03 L564.38,1329.18 L565.57,1329 L566.76,1328.81 L567.97,1328.72 L569.15,1328.4 L570.33,1328.07 L571.55,1328.12 L572.79,1328.54 L574.02,1328.84 L575.21,1328.63 L576.38,1328.15 L577.58,1328.04 L578.8,1328.1 L580,1327.99 L581.19,1327.83 L582.4,1327.85 L583.62,1327.88 L584.82,1327.82 L586.02,1327.7 L587.22,1327.54 L588.41,1327.4 L589.61,1327.27 L590.8,1326.99 L592,1326.9" fill="none" stroke="#dc14dc" stroke-width="2.8" stroke-linejoin="round" stroke-linecap="round"/>
</svg>
</body></html>
